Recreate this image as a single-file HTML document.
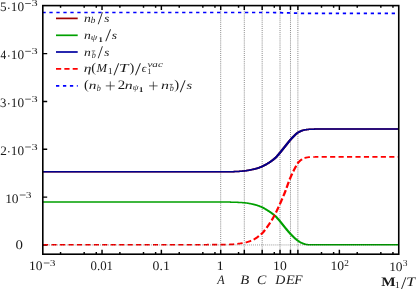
<!DOCTYPE html>
<html><head><meta charset="utf-8"><title>plot</title>
<style>
html,body{margin:0;padding:0;background:#fff;overflow:hidden}
svg{display:block}
text{font-family:"Liberation Serif",serif;fill:#1a1a1a;text-rendering:geometricPrecision}
</style></head><body>
<svg width="416" height="289" viewBox="0 0 416 289">
<rect width="416" height="289" fill="#fff"/>
<g fill="none">
<path d="M60.56,254.2v-2.2M60.56,5.6v2.2M84.17,254.2v-2.2M84.17,5.6v2.2M96.28,254.2v-2.2M96.28,5.6v2.2M102.03,254.2v-4.4M102.03,5.6v4.4M119.89,254.2v-2.2M119.89,5.6v2.2M143.51,254.2v-2.2M143.51,5.6v2.2M155.62,254.2v-2.2M155.62,5.6v2.2M161.37,254.2v-4.4M161.37,5.6v4.4M179.23,254.2v-2.2M179.23,5.6v2.2M202.84,254.2v-2.2M202.84,5.6v2.2M214.95,254.2v-2.2M214.95,5.6v2.2M220.70,254.2v-4.4M220.70,5.6v4.4M238.56,254.2v-2.2M238.56,5.6v2.2M262.17,254.2v-2.2M262.17,5.6v2.2M274.28,254.2v-2.2M274.28,5.6v2.2M280.03,254.2v-4.4M280.03,5.6v4.4M297.89,254.2v-2.2M297.89,5.6v2.2M321.51,254.2v-2.2M321.51,5.6v2.2M333.62,254.2v-2.2M333.62,5.6v2.2M339.37,254.2v-4.4M339.37,5.6v4.4M357.23,254.2v-2.2M357.23,5.6v2.2M380.84,254.2v-2.2M380.84,5.6v2.2M392.95,254.2v-2.2M392.95,5.6v2.2M244.31,254.2v-4.4M244.31,5.6v4.4M262.17,254.2v-4.4M262.17,5.6v4.4M290.48,254.2v-4.4M290.48,5.6v4.4M297.89,254.2v-4.4M297.89,5.6v4.4M42.8,244.95h4.4M42.8,197.12h4.4M42.8,149.29h4.4M42.8,101.46h4.4M42.8,53.63h4.4" stroke="#000" stroke-width="1.45"/>
<line x1="220.70" y1="5.1" x2="220.70" y2="254.2" stroke="#000" stroke-opacity="0.6" stroke-width="0.8" stroke-dasharray="1 1.08"/>
<line x1="244.31" y1="5.1" x2="244.31" y2="254.2" stroke="#000" stroke-opacity="0.6" stroke-width="0.8" stroke-dasharray="1 1.08"/>
<line x1="262.17" y1="5.1" x2="262.17" y2="254.2" stroke="#000" stroke-opacity="0.6" stroke-width="0.8" stroke-dasharray="1 1.08"/>
<line x1="280.03" y1="5.1" x2="280.03" y2="254.2" stroke="#000" stroke-opacity="0.6" stroke-width="0.8" stroke-dasharray="1 1.08"/>
<line x1="290.48" y1="5.1" x2="290.48" y2="254.2" stroke="#000" stroke-opacity="0.6" stroke-width="0.8" stroke-dasharray="1 1.08"/>
<line x1="297.89" y1="5.1" x2="297.89" y2="254.2" stroke="#000" stroke-opacity="0.6" stroke-width="0.8" stroke-dasharray="1 1.08"/>
<path d="M42.80,172.60 L43.30,172.60 L43.80,172.60 L44.30,172.60 L44.80,172.60 L45.30,172.60 L45.80,172.60 L46.30,172.60 L46.80,172.60 L47.30,172.60 L47.80,172.60 L48.30,172.60 L48.80,172.60 L49.30,172.60 L49.80,172.60 L50.30,172.60 L50.80,172.60 L51.30,172.60 L51.80,172.60 L52.30,172.60 L52.80,172.60 L53.30,172.60 L53.80,172.60 L54.30,172.60 L54.80,172.60 L55.30,172.60 L55.80,172.60 L56.30,172.60 L56.80,172.60 L57.30,172.60 L57.80,172.60 L58.30,172.60 L58.80,172.60 L59.30,172.60 L59.80,172.60 L60.30,172.60 L60.80,172.60 L61.30,172.60 L61.80,172.60 L62.30,172.60 L62.80,172.60 L63.30,172.60 L63.80,172.60 L64.30,172.60 L64.80,172.60 L65.30,172.60 L65.80,172.60 L66.30,172.60 L66.80,172.60 L67.30,172.60 L67.80,172.60 L68.30,172.60 L68.80,172.60 L69.30,172.60 L69.80,172.60 L70.30,172.60 L70.80,172.60 L71.30,172.60 L71.80,172.60 L72.30,172.60 L72.80,172.60 L73.30,172.60 L73.80,172.60 L74.30,172.60 L74.80,172.60 L75.30,172.60 L75.80,172.60 L76.30,172.60 L76.80,172.60 L77.30,172.60 L77.80,172.60 L78.30,172.60 L78.80,172.60 L79.30,172.60 L79.80,172.60 L80.30,172.60 L80.80,172.60 L81.30,172.60 L81.80,172.60 L82.30,172.60 L82.80,172.60 L83.30,172.60 L83.80,172.60 L84.30,172.60 L84.80,172.60 L85.30,172.60 L85.80,172.60 L86.30,172.60 L86.80,172.60 L87.30,172.60 L87.80,172.60 L88.30,172.60 L88.80,172.60 L89.30,172.60 L89.80,172.60 L90.30,172.60 L90.80,172.60 L91.30,172.60 L91.80,172.60 L92.30,172.60 L92.80,172.60 L93.30,172.60 L93.80,172.60 L94.30,172.60 L94.80,172.60 L95.30,172.60 L95.80,172.60 L96.30,172.60 L96.80,172.60 L97.30,172.60 L97.80,172.60 L98.30,172.60 L98.80,172.60 L99.30,172.60 L99.80,172.60 L100.30,172.60 L100.80,172.60 L101.30,172.60 L101.80,172.60 L102.30,172.60 L102.80,172.60 L103.30,172.60 L103.80,172.60 L104.30,172.60 L104.80,172.60 L105.30,172.60 L105.80,172.60 L106.30,172.60 L106.80,172.60 L107.30,172.60 L107.80,172.60 L108.30,172.60 L108.80,172.60 L109.30,172.60 L109.80,172.60 L110.30,172.60 L110.80,172.60 L111.30,172.60 L111.80,172.60 L112.30,172.60 L112.80,172.60 L113.30,172.60 L113.80,172.60 L114.30,172.60 L114.80,172.60 L115.30,172.60 L115.80,172.60 L116.30,172.60 L116.80,172.60 L117.30,172.60 L117.80,172.60 L118.30,172.60 L118.80,172.60 L119.30,172.60 L119.80,172.60 L120.30,172.60 L120.80,172.60 L121.30,172.60 L121.80,172.60 L122.30,172.60 L122.80,172.60 L123.30,172.60 L123.80,172.60 L124.30,172.60 L124.80,172.60 L125.30,172.60 L125.80,172.60 L126.30,172.60 L126.80,172.60 L127.30,172.60 L127.80,172.60 L128.30,172.60 L128.80,172.60 L129.30,172.60 L129.80,172.60 L130.30,172.60 L130.80,172.60 L131.30,172.60 L131.80,172.60 L132.30,172.60 L132.80,172.60 L133.30,172.60 L133.80,172.60 L134.30,172.60 L134.80,172.60 L135.30,172.60 L135.80,172.60 L136.30,172.60 L136.80,172.60 L137.30,172.60 L137.80,172.60 L138.30,172.60 L138.80,172.60 L139.30,172.60 L139.80,172.60 L140.30,172.60 L140.80,172.60 L141.30,172.60 L141.80,172.60 L142.30,172.60 L142.80,172.60 L143.30,172.60 L143.80,172.60 L144.30,172.60 L144.80,172.60 L145.30,172.60 L145.80,172.60 L146.30,172.60 L146.80,172.60 L147.30,172.60 L147.80,172.60 L148.30,172.60 L148.80,172.60 L149.30,172.60 L149.80,172.60 L150.30,172.60 L150.80,172.60 L151.30,172.60 L151.80,172.60 L152.30,172.60 L152.80,172.60 L153.30,172.60 L153.80,172.60 L154.30,172.60 L154.80,172.60 L155.30,172.60 L155.80,172.60 L156.30,172.60 L156.80,172.60 L157.30,172.60 L157.80,172.60 L158.30,172.60 L158.80,172.60 L159.30,172.60 L159.80,172.60 L160.30,172.60 L160.80,172.60 L161.30,172.60 L161.80,172.60 L162.30,172.60 L162.80,172.60 L163.30,172.60 L163.80,172.60 L164.30,172.60 L164.80,172.60 L165.30,172.60 L165.80,172.60 L166.30,172.60 L166.80,172.60 L167.30,172.60 L167.80,172.60 L168.30,172.60 L168.80,172.60 L169.30,172.60 L169.80,172.60 L170.30,172.60 L170.80,172.60 L171.30,172.60 L171.80,172.60 L172.30,172.60 L172.80,172.60 L173.30,172.60 L173.80,172.60 L174.30,172.60 L174.80,172.60 L175.30,172.60 L175.80,172.60 L176.30,172.60 L176.80,172.60 L177.30,172.60 L177.80,172.60 L178.30,172.60 L178.80,172.60 L179.30,172.60 L179.80,172.60 L180.30,172.60 L180.80,172.60 L181.30,172.60 L181.80,172.60 L182.30,172.60 L182.80,172.60 L183.30,172.60 L183.80,172.60 L184.30,172.60 L184.80,172.60 L185.30,172.60 L185.80,172.60 L186.30,172.60 L186.80,172.60 L187.30,172.60 L187.80,172.60 L188.30,172.60 L188.80,172.60 L189.30,172.60 L189.80,172.60 L190.30,172.60 L190.80,172.60 L191.30,172.60 L191.80,172.60 L192.30,172.60 L192.80,172.60 L193.30,172.60 L193.80,172.60 L194.30,172.60 L194.80,172.60 L195.30,172.60 L195.80,172.60 L196.30,172.60 L196.80,172.60 L197.30,172.60 L197.80,172.60 L198.30,172.60 L198.80,172.60 L199.30,172.60 L199.80,172.60 L200.30,172.60 L200.80,172.60 L201.30,172.60 L201.80,172.60 L202.30,172.60 L202.80,172.60 L203.30,172.60 L203.80,172.60 L204.30,172.60 L204.80,172.60 L205.30,172.60 L205.80,172.60 L206.30,172.60 L206.80,172.60 L207.30,172.60 L207.80,172.60 L208.30,172.60 L208.80,172.60 L209.30,172.59 L209.80,172.59 L210.30,172.59 L210.80,172.59 L211.30,172.59 L211.80,172.59 L212.30,172.59 L212.80,172.59 L213.30,172.59 L213.80,172.59 L214.30,172.59 L214.80,172.59 L215.30,172.58 L215.80,172.58 L216.30,172.58 L216.80,172.58 L217.30,172.58 L217.80,172.58 L218.30,172.58 L218.80,172.58 L219.30,172.57 L219.80,172.57 L220.30,172.57 L220.80,172.57 L221.30,172.57 L221.80,172.57 L222.30,172.57 L222.80,172.56 L223.30,172.56 L223.80,172.56 L224.30,172.56 L224.80,172.56 L225.30,172.55 L225.80,172.55 L226.30,172.55 L226.81,172.55 L227.31,172.54 L227.81,172.54 L228.31,172.53 L228.81,172.53 L229.32,172.52 L229.82,172.51 L230.32,172.50 L230.82,172.48 L231.32,172.47 L231.82,172.46 L232.32,172.44 L232.82,172.43 L233.33,172.41 L233.83,172.40 L234.33,172.38 L234.83,172.36 L235.33,172.34 L235.83,172.32 L236.33,172.31 L236.84,172.29 L237.34,172.26 L237.84,172.24 L238.35,172.21 L238.85,172.18 L239.35,172.15 L239.86,172.11 L240.36,172.08 L240.86,172.04 L241.37,172.00 L241.87,171.95 L242.37,171.91 L242.88,171.86 L243.38,171.82 L243.88,171.77 L244.38,171.71 L244.89,171.66 L245.40,171.61 L245.91,171.54 L246.42,171.47 L246.93,171.40 L247.44,171.32 L247.95,171.23 L248.45,171.14 L248.96,171.05 L249.46,170.96 L249.96,170.86 L250.46,170.76 L250.96,170.66 L251.47,170.56 L251.97,170.46 L252.47,170.36 L252.98,170.25 L253.49,170.14 L253.99,170.03 L254.50,169.92 L255.01,169.80 L255.51,169.67 L256.02,169.54 L256.53,169.41 L257.04,169.27 L257.55,169.13 L258.07,168.98 L258.59,168.81 L259.10,168.64 L259.62,168.46 L260.13,168.27 L260.64,168.08 L261.15,167.88 L261.66,167.67 L262.17,167.45 L262.68,167.23 L263.20,167.00 L263.71,166.76 L264.23,166.52 L264.74,166.26 L265.25,165.99 L265.77,165.72 L266.28,165.44 L266.79,165.16 L267.29,164.87 L267.80,164.57 L268.31,164.27 L268.81,163.96 L269.32,163.65 L269.83,163.34 L270.34,163.01 L270.86,162.68 L271.37,162.34 L271.88,161.99 L272.40,161.62 L272.91,161.25 L273.43,160.87 L273.95,160.47 L274.47,160.05 L274.99,159.61 L275.51,159.15 L276.03,158.67 L276.55,158.18 L277.06,157.67 L277.58,157.15 L278.10,156.61 L278.62,156.03 L279.13,155.45 L279.64,154.85 L280.14,154.24 L280.64,153.64 L281.14,153.04 L281.65,152.43 L282.15,151.81 L282.66,151.19 L283.16,150.57 L283.66,149.94 L284.16,149.31 L284.66,148.68 L285.16,148.06 L285.66,147.44 L286.16,146.81 L286.66,146.18 L287.17,145.55 L287.67,144.92 L288.16,144.29 L288.66,143.66 L289.16,143.04 L289.65,142.43 L290.14,141.83 L290.63,141.24 L291.12,140.67 L291.62,140.09 L292.11,139.53 L292.61,138.97 L293.09,138.43 L293.58,137.91 L294.06,137.40 L294.55,136.91 L295.04,136.43 L295.53,135.94 L296.02,135.48 L296.50,135.03 L296.97,134.61 L297.43,134.22 L297.88,133.86 L298.34,133.54 L298.82,133.23 L299.29,132.93 L299.76,132.65 L300.23,132.39 L300.69,132.15 L301.15,131.93 L301.62,131.73 L302.10,131.55 L302.58,131.38 L303.06,131.22 L303.53,131.07 L304.01,130.93 L304.48,130.81 L304.95,130.70 L305.43,130.61 L305.92,130.53 L306.41,130.46 L306.90,130.39 L307.39,130.33 L307.88,130.27 L308.37,130.21 L308.86,130.16 L309.35,130.12 L309.84,130.09 L310.34,130.06 L310.84,130.03 L311.33,130.01 L311.83,129.98 L312.33,129.96 L312.83,129.94 L313.32,129.93 L313.82,129.91 L314.32,129.89 L314.82,129.88 L315.31,129.87 L315.81,129.86 L316.31,129.85 L316.81,129.85 L317.31,129.84 L317.81,129.83 L318.31,129.83 L318.81,129.82 L319.31,129.82 L319.81,129.81 L320.30,129.81 L320.80,129.80 L321.30,129.80 L321.80,129.80 L322.30,129.80 L322.80,129.80 L323.30,129.80 L323.80,129.80 L324.30,129.80 L324.80,129.80 L325.30,129.80 L325.80,129.80 L326.30,129.80 L326.80,129.80 L327.30,129.80 L327.80,129.80 L328.30,129.80 L328.80,129.80 L329.30,129.80 L329.80,129.80 L330.30,129.80 L330.80,129.80 L331.30,129.80 L331.80,129.80 L332.30,129.80 L332.80,129.80 L333.30,129.80 L333.80,129.80 L334.30,129.80 L334.80,129.80 L335.30,129.80 L335.80,129.80 L336.30,129.80 L336.80,129.80 L337.30,129.80 L337.80,129.80 L338.30,129.80 L338.80,129.80 L339.30,129.80 L339.80,129.80 L340.30,129.80 L340.80,129.80 L341.30,129.80 L341.80,129.80 L342.30,129.80 L342.80,129.80 L343.30,129.80 L343.80,129.80 L344.30,129.80 L344.80,129.80 L345.30,129.80 L345.80,129.80 L346.30,129.80 L346.80,129.80 L347.30,129.80 L347.80,129.80 L348.30,129.80 L348.80,129.80 L349.30,129.80 L349.80,129.80 L350.30,129.80 L350.80,129.80 L351.30,129.80 L351.80,129.80 L352.30,129.80 L352.80,129.80 L353.30,129.80 L353.80,129.80 L354.30,129.80 L354.80,129.80 L355.30,129.80 L355.80,129.80 L356.30,129.80 L356.80,129.80 L357.30,129.80 L357.80,129.80 L358.30,129.80 L358.80,129.80 L359.30,129.80 L359.80,129.80 L360.30,129.80 L360.80,129.80 L361.30,129.80 L361.80,129.80 L362.30,129.80 L362.80,129.80 L363.30,129.80 L363.80,129.80 L364.30,129.80 L364.80,129.80 L365.30,129.80 L365.80,129.80 L366.30,129.80 L366.80,129.80 L367.30,129.80 L367.80,129.80 L368.30,129.80 L368.80,129.80 L369.30,129.80 L369.80,129.80 L370.30,129.80 L370.80,129.80 L371.30,129.80 L371.80,129.80 L372.30,129.80 L372.80,129.80 L373.30,129.80 L373.80,129.80 L374.30,129.80 L374.80,129.80 L375.30,129.80 L375.80,129.80 L376.30,129.80 L376.80,129.80 L377.30,129.80 L377.80,129.80 L378.30,129.80 L378.80,129.80 L379.30,129.80 L379.80,129.80 L380.30,129.80 L380.80,129.80 L381.30,129.80 L381.80,129.80 L382.30,129.80 L382.80,129.80 L383.30,129.80 L383.80,129.80 L384.30,129.80 L384.80,129.80 L385.30,129.80 L385.80,129.80 L386.30,129.80 L386.80,129.80 L387.30,129.80 L387.80,129.80 L388.30,129.80 L388.80,129.80 L389.30,129.80 L389.80,129.80 L390.30,129.80 L390.80,129.80 L391.30,129.80 L391.80,129.80 L392.30,129.80 L392.80,129.80 L393.30,129.80 L393.80,129.80 L394.30,129.80 L394.80,129.80 L395.30,129.80 L395.80,129.80 L396.30,129.80 L396.80,129.80 L397.30,129.80 L397.80,129.80 L398.30,129.80 L398.75,129.80 L398.75,128.30 L398.30,128.30 L397.80,128.30 L397.30,128.30 L396.80,128.30 L396.30,128.30 L395.80,128.30 L395.30,128.30 L394.80,128.30 L394.30,128.30 L393.80,128.30 L393.30,128.30 L392.80,128.30 L392.30,128.30 L391.80,128.30 L391.30,128.30 L390.80,128.30 L390.30,128.30 L389.80,128.30 L389.30,128.30 L388.80,128.30 L388.30,128.30 L387.80,128.30 L387.30,128.30 L386.80,128.30 L386.30,128.30 L385.80,128.30 L385.30,128.30 L384.80,128.30 L384.30,128.30 L383.80,128.30 L383.30,128.30 L382.80,128.30 L382.30,128.30 L381.80,128.30 L381.30,128.30 L380.80,128.30 L380.30,128.30 L379.80,128.30 L379.30,128.30 L378.80,128.30 L378.30,128.30 L377.80,128.30 L377.30,128.30 L376.80,128.30 L376.30,128.30 L375.80,128.30 L375.30,128.30 L374.80,128.30 L374.30,128.30 L373.80,128.30 L373.30,128.30 L372.80,128.30 L372.30,128.30 L371.80,128.30 L371.30,128.30 L370.80,128.30 L370.30,128.30 L369.80,128.30 L369.30,128.30 L368.80,128.30 L368.30,128.30 L367.80,128.30 L367.30,128.30 L366.80,128.30 L366.30,128.30 L365.80,128.30 L365.30,128.30 L364.80,128.30 L364.30,128.30 L363.80,128.30 L363.30,128.30 L362.80,128.30 L362.30,128.30 L361.80,128.30 L361.30,128.30 L360.80,128.30 L360.30,128.30 L359.80,128.30 L359.30,128.30 L358.80,128.30 L358.30,128.30 L357.80,128.30 L357.30,128.30 L356.80,128.30 L356.30,128.30 L355.80,128.30 L355.30,128.30 L354.80,128.30 L354.30,128.30 L353.80,128.30 L353.30,128.30 L352.80,128.30 L352.30,128.30 L351.80,128.30 L351.30,128.30 L350.80,128.30 L350.30,128.30 L349.80,128.30 L349.30,128.30 L348.80,128.30 L348.30,128.30 L347.80,128.30 L347.30,128.30 L346.80,128.30 L346.30,128.30 L345.80,128.30 L345.30,128.30 L344.80,128.30 L344.30,128.30 L343.80,128.30 L343.30,128.30 L342.80,128.30 L342.30,128.30 L341.80,128.30 L341.30,128.30 L340.80,128.30 L340.30,128.30 L339.80,128.30 L339.30,128.30 L338.80,128.30 L338.30,128.30 L337.80,128.30 L337.30,128.30 L336.80,128.30 L336.30,128.30 L335.80,128.30 L335.30,128.30 L334.80,128.30 L334.30,128.30 L333.80,128.30 L333.30,128.30 L332.80,128.30 L332.30,128.30 L331.80,128.30 L331.30,128.30 L330.80,128.30 L330.30,128.30 L329.80,128.30 L329.30,128.30 L328.80,128.30 L328.30,128.30 L327.80,128.30 L327.30,128.30 L326.80,128.30 L326.30,128.30 L325.80,128.30 L325.30,128.30 L324.80,128.30 L324.30,128.30 L323.80,128.30 L323.30,128.30 L322.80,128.30 L322.30,128.30 L321.80,128.30 L321.30,128.30 L320.80,128.30 L320.30,128.30 L319.79,128.31 L319.29,128.31 L318.79,128.31 L318.29,128.32 L317.79,128.32 L317.29,128.33 L316.79,128.33 L316.29,128.34 L315.79,128.35 L315.29,128.35 L314.78,128.36 L314.28,128.37 L313.78,128.38 L313.28,128.40 L312.77,128.41 L312.27,128.43 L311.77,128.45 L311.27,128.47 L310.76,128.49 L310.26,128.51 L309.76,128.54 L309.25,128.56 L308.74,128.60 L308.23,128.64 L307.72,128.68 L307.21,128.73 L306.70,128.79 L306.19,128.85 L305.68,128.92 L305.17,128.99 L304.65,129.07 L304.12,129.16 L303.59,129.26 L303.07,129.39 L302.54,129.53 L302.02,129.69 L301.50,129.85 L300.98,130.03 L300.45,130.22 L299.91,130.44 L299.37,130.69 L298.84,130.95 L298.31,131.24 L297.78,131.55 L297.26,131.87 L296.72,132.21 L296.17,132.60 L295.63,133.02 L295.10,133.46 L294.58,133.93 L294.07,134.41 L293.56,134.90 L293.05,135.39 L292.54,135.90 L292.02,136.42 L291.51,136.97 L290.99,137.52 L290.49,138.09 L289.98,138.66 L289.48,139.24 L288.97,139.82 L288.46,140.42 L287.95,141.04 L287.44,141.66 L286.94,142.28 L286.44,142.92 L285.93,143.55 L285.43,144.18 L284.94,144.81 L284.44,145.44 L283.94,146.06 L283.44,146.68 L282.94,147.31 L282.44,147.94 L281.94,148.56 L281.44,149.19 L280.94,149.81 L280.45,150.43 L279.95,151.04 L279.46,151.64 L278.96,152.24 L278.46,152.84 L277.96,153.44 L277.47,154.03 L276.98,154.60 L276.50,155.14 L276.02,155.66 L275.54,156.17 L275.05,156.66 L274.57,157.14 L274.09,157.60 L273.61,158.04 L273.13,158.46 L272.65,158.86 L272.17,159.24 L271.69,159.62 L271.20,159.98 L270.72,160.34 L270.23,160.68 L269.74,161.02 L269.26,161.34 L268.77,161.66 L268.28,161.98 L267.79,162.28 L267.29,162.59 L266.80,162.88 L266.31,163.18 L265.81,163.47 L265.32,163.75 L264.83,164.03 L264.35,164.30 L263.86,164.56 L263.37,164.81 L262.89,165.06 L262.40,165.30 L261.92,165.53 L261.43,165.75 L260.94,165.96 L260.45,166.17 L259.96,166.37 L259.47,166.57 L258.98,166.76 L258.50,166.95 L258.01,167.12 L257.53,167.29 L257.05,167.44 L256.56,167.59 L256.07,167.73 L255.58,167.87 L255.09,168.00 L254.59,168.13 L254.10,168.25 L253.61,168.37 L253.11,168.49 L252.62,168.60 L252.13,168.71 L251.63,168.81 L251.13,168.92 L250.64,169.02 L250.14,169.12 L249.64,169.22 L249.14,169.32 L248.64,169.41 L248.15,169.51 L247.65,169.60 L247.16,169.69 L246.67,169.77 L246.18,169.86 L245.69,169.93 L245.20,170.00 L244.71,170.07 L244.22,170.13 L243.72,170.18 L243.22,170.23 L242.72,170.28 L242.23,170.33 L241.73,170.38 L241.23,170.43 L240.74,170.47 L240.24,170.51 L239.74,170.55 L239.25,170.59 L238.75,170.63 L238.25,170.66 L237.76,170.69 L237.26,170.72 L236.76,170.75 L236.27,170.77 L235.77,170.79 L235.27,170.81 L234.77,170.83 L234.27,170.85 L233.77,170.87 L233.27,170.88 L232.78,170.90 L232.28,170.92 L231.78,170.93 L231.28,170.95 L230.78,170.96 L230.28,170.97 L229.78,170.99 L229.28,171.00 L228.79,171.01 L228.29,171.02 L227.79,171.03 L227.29,171.04 L226.79,171.04 L226.30,171.05 L225.80,171.05 L225.30,171.05 L224.80,171.05 L224.30,171.05 L223.80,171.06 L223.30,171.06 L222.80,171.06 L222.30,171.06 L221.80,171.06 L221.30,171.07 L220.80,171.07 L220.30,171.07 L219.80,171.07 L219.30,171.07 L218.80,171.07 L218.30,171.07 L217.80,171.08 L217.30,171.08 L216.80,171.08 L216.30,171.08 L215.80,171.08 L215.30,171.08 L214.80,171.08 L214.30,171.08 L213.80,171.09 L213.30,171.09 L212.80,171.09 L212.30,171.09 L211.80,171.09 L211.30,171.09 L210.80,171.09 L210.30,171.09 L209.80,171.09 L209.30,171.09 L208.80,171.09 L208.30,171.09 L207.80,171.10 L207.30,171.10 L206.80,171.10 L206.30,171.10 L205.80,171.10 L205.30,171.10 L204.80,171.10 L204.30,171.10 L203.80,171.10 L203.30,171.10 L202.80,171.10 L202.30,171.10 L201.80,171.10 L201.30,171.10 L200.80,171.10 L200.30,171.10 L199.80,171.10 L199.30,171.10 L198.80,171.10 L198.30,171.10 L197.80,171.10 L197.30,171.10 L196.80,171.10 L196.30,171.10 L195.80,171.10 L195.30,171.10 L194.80,171.10 L194.30,171.10 L193.80,171.10 L193.30,171.10 L192.80,171.10 L192.30,171.10 L191.80,171.10 L191.30,171.10 L190.80,171.10 L190.30,171.10 L189.80,171.10 L189.30,171.10 L188.80,171.10 L188.30,171.10 L187.80,171.10 L187.30,171.10 L186.80,171.10 L186.30,171.10 L185.80,171.10 L185.30,171.10 L184.80,171.10 L184.30,171.10 L183.80,171.10 L183.30,171.10 L182.80,171.10 L182.30,171.10 L181.80,171.10 L181.30,171.10 L180.80,171.10 L180.30,171.10 L179.80,171.10 L179.30,171.10 L178.80,171.10 L178.30,171.10 L177.80,171.10 L177.30,171.10 L176.80,171.10 L176.30,171.10 L175.80,171.10 L175.30,171.10 L174.80,171.10 L174.30,171.10 L173.80,171.10 L173.30,171.10 L172.80,171.10 L172.30,171.10 L171.80,171.10 L171.30,171.10 L170.80,171.10 L170.30,171.10 L169.80,171.10 L169.30,171.10 L168.80,171.10 L168.30,171.10 L167.80,171.10 L167.30,171.10 L166.80,171.10 L166.30,171.10 L165.80,171.10 L165.30,171.10 L164.80,171.10 L164.30,171.10 L163.80,171.10 L163.30,171.10 L162.80,171.10 L162.30,171.10 L161.80,171.10 L161.30,171.10 L160.80,171.10 L160.30,171.10 L159.80,171.10 L159.30,171.10 L158.80,171.10 L158.30,171.10 L157.80,171.10 L157.30,171.10 L156.80,171.10 L156.30,171.10 L155.80,171.10 L155.30,171.10 L154.80,171.10 L154.30,171.10 L153.80,171.10 L153.30,171.10 L152.80,171.10 L152.30,171.10 L151.80,171.10 L151.30,171.10 L150.80,171.10 L150.30,171.10 L149.80,171.10 L149.30,171.10 L148.80,171.10 L148.30,171.10 L147.80,171.10 L147.30,171.10 L146.80,171.10 L146.30,171.10 L145.80,171.10 L145.30,171.10 L144.80,171.10 L144.30,171.10 L143.80,171.10 L143.30,171.10 L142.80,171.10 L142.30,171.10 L141.80,171.10 L141.30,171.10 L140.80,171.10 L140.30,171.10 L139.80,171.10 L139.30,171.10 L138.80,171.10 L138.30,171.10 L137.80,171.10 L137.30,171.10 L136.80,171.10 L136.30,171.10 L135.80,171.10 L135.30,171.10 L134.80,171.10 L134.30,171.10 L133.80,171.10 L133.30,171.10 L132.80,171.10 L132.30,171.10 L131.80,171.10 L131.30,171.10 L130.80,171.10 L130.30,171.10 L129.80,171.10 L129.30,171.10 L128.80,171.10 L128.30,171.10 L127.80,171.10 L127.30,171.10 L126.80,171.10 L126.30,171.10 L125.80,171.10 L125.30,171.10 L124.80,171.10 L124.30,171.10 L123.80,171.10 L123.30,171.10 L122.80,171.10 L122.30,171.10 L121.80,171.10 L121.30,171.10 L120.80,171.10 L120.30,171.10 L119.80,171.10 L119.30,171.10 L118.80,171.10 L118.30,171.10 L117.80,171.10 L117.30,171.10 L116.80,171.10 L116.30,171.10 L115.80,171.10 L115.30,171.10 L114.80,171.10 L114.30,171.10 L113.80,171.10 L113.30,171.10 L112.80,171.10 L112.30,171.10 L111.80,171.10 L111.30,171.10 L110.80,171.10 L110.30,171.10 L109.80,171.10 L109.30,171.10 L108.80,171.10 L108.30,171.10 L107.80,171.10 L107.30,171.10 L106.80,171.10 L106.30,171.10 L105.80,171.10 L105.30,171.10 L104.80,171.10 L104.30,171.10 L103.80,171.10 L103.30,171.10 L102.80,171.10 L102.30,171.10 L101.80,171.10 L101.30,171.10 L100.80,171.10 L100.30,171.10 L99.80,171.10 L99.30,171.10 L98.80,171.10 L98.30,171.10 L97.80,171.10 L97.30,171.10 L96.80,171.10 L96.30,171.10 L95.80,171.10 L95.30,171.10 L94.80,171.10 L94.30,171.10 L93.80,171.10 L93.30,171.10 L92.80,171.10 L92.30,171.10 L91.80,171.10 L91.30,171.10 L90.80,171.10 L90.30,171.10 L89.80,171.10 L89.30,171.10 L88.80,171.10 L88.30,171.10 L87.80,171.10 L87.30,171.10 L86.80,171.10 L86.30,171.10 L85.80,171.10 L85.30,171.10 L84.80,171.10 L84.30,171.10 L83.80,171.10 L83.30,171.10 L82.80,171.10 L82.30,171.10 L81.80,171.10 L81.30,171.10 L80.80,171.10 L80.30,171.10 L79.80,171.10 L79.30,171.10 L78.80,171.10 L78.30,171.10 L77.80,171.10 L77.30,171.10 L76.80,171.10 L76.30,171.10 L75.80,171.10 L75.30,171.10 L74.80,171.10 L74.30,171.10 L73.80,171.10 L73.30,171.10 L72.80,171.10 L72.30,171.10 L71.80,171.10 L71.30,171.10 L70.80,171.10 L70.30,171.10 L69.80,171.10 L69.30,171.10 L68.80,171.10 L68.30,171.10 L67.80,171.10 L67.30,171.10 L66.80,171.10 L66.30,171.10 L65.80,171.10 L65.30,171.10 L64.80,171.10 L64.30,171.10 L63.80,171.10 L63.30,171.10 L62.80,171.10 L62.30,171.10 L61.80,171.10 L61.30,171.10 L60.80,171.10 L60.30,171.10 L59.80,171.10 L59.30,171.10 L58.80,171.10 L58.30,171.10 L57.80,171.10 L57.30,171.10 L56.80,171.10 L56.30,171.10 L55.80,171.10 L55.30,171.10 L54.80,171.10 L54.30,171.10 L53.80,171.10 L53.30,171.10 L52.80,171.10 L52.30,171.10 L51.80,171.10 L51.30,171.10 L50.80,171.10 L50.30,171.10 L49.80,171.10 L49.30,171.10 L48.80,171.10 L48.30,171.10 L47.80,171.10 L47.30,171.10 L46.80,171.10 L46.30,171.10 L45.80,171.10 L45.30,171.10 L44.80,171.10 L44.30,171.10 L43.80,171.10 L43.30,171.10 L42.80,171.10Z" fill="#a00000"/>
<path d="M42.80,202.75 L43.30,202.75 L43.80,202.75 L44.30,202.75 L44.80,202.75 L45.30,202.75 L45.80,202.75 L46.30,202.75 L46.80,202.75 L47.30,202.75 L47.80,202.75 L48.30,202.75 L48.80,202.75 L49.30,202.75 L49.80,202.75 L50.30,202.75 L50.80,202.75 L51.30,202.75 L51.80,202.75 L52.30,202.75 L52.80,202.75 L53.30,202.75 L53.80,202.75 L54.30,202.75 L54.80,202.75 L55.30,202.75 L55.80,202.75 L56.30,202.75 L56.80,202.75 L57.30,202.75 L57.80,202.75 L58.30,202.75 L58.80,202.75 L59.30,202.75 L59.80,202.75 L60.30,202.75 L60.80,202.75 L61.30,202.75 L61.80,202.75 L62.30,202.75 L62.80,202.75 L63.30,202.75 L63.80,202.75 L64.30,202.75 L64.80,202.75 L65.30,202.75 L65.80,202.75 L66.30,202.75 L66.80,202.75 L67.30,202.75 L67.80,202.75 L68.30,202.75 L68.80,202.75 L69.30,202.75 L69.80,202.75 L70.30,202.75 L70.80,202.75 L71.30,202.75 L71.80,202.75 L72.30,202.75 L72.80,202.75 L73.30,202.75 L73.80,202.75 L74.30,202.75 L74.80,202.75 L75.30,202.75 L75.80,202.75 L76.30,202.75 L76.80,202.75 L77.30,202.75 L77.80,202.75 L78.30,202.75 L78.80,202.75 L79.30,202.75 L79.80,202.75 L80.30,202.75 L80.80,202.75 L81.30,202.75 L81.80,202.75 L82.30,202.75 L82.80,202.75 L83.30,202.75 L83.80,202.75 L84.30,202.75 L84.80,202.75 L85.30,202.75 L85.80,202.75 L86.30,202.75 L86.80,202.75 L87.30,202.75 L87.80,202.75 L88.30,202.75 L88.80,202.75 L89.30,202.75 L89.80,202.75 L90.30,202.75 L90.80,202.75 L91.30,202.75 L91.80,202.75 L92.30,202.75 L92.80,202.75 L93.30,202.75 L93.80,202.75 L94.30,202.75 L94.80,202.75 L95.30,202.75 L95.80,202.75 L96.30,202.75 L96.80,202.75 L97.30,202.75 L97.80,202.75 L98.30,202.75 L98.80,202.75 L99.30,202.75 L99.80,202.75 L100.30,202.75 L100.80,202.75 L101.30,202.75 L101.80,202.75 L102.30,202.75 L102.80,202.75 L103.30,202.75 L103.80,202.75 L104.30,202.75 L104.80,202.75 L105.30,202.75 L105.80,202.75 L106.30,202.75 L106.80,202.75 L107.30,202.75 L107.80,202.75 L108.30,202.75 L108.80,202.75 L109.30,202.75 L109.80,202.75 L110.30,202.75 L110.80,202.75 L111.30,202.75 L111.80,202.75 L112.30,202.75 L112.80,202.75 L113.30,202.75 L113.80,202.75 L114.30,202.75 L114.80,202.75 L115.30,202.75 L115.80,202.75 L116.30,202.75 L116.80,202.75 L117.30,202.75 L117.80,202.75 L118.30,202.75 L118.80,202.75 L119.30,202.75 L119.80,202.75 L120.30,202.75 L120.80,202.75 L121.30,202.75 L121.80,202.75 L122.30,202.75 L122.80,202.75 L123.30,202.75 L123.80,202.75 L124.30,202.75 L124.80,202.75 L125.30,202.75 L125.80,202.75 L126.30,202.75 L126.80,202.75 L127.30,202.75 L127.80,202.75 L128.30,202.75 L128.80,202.75 L129.30,202.75 L129.80,202.75 L130.30,202.75 L130.80,202.75 L131.30,202.75 L131.80,202.75 L132.30,202.75 L132.80,202.75 L133.30,202.75 L133.80,202.75 L134.30,202.75 L134.80,202.75 L135.30,202.75 L135.80,202.75 L136.30,202.75 L136.80,202.75 L137.30,202.75 L137.80,202.75 L138.30,202.75 L138.80,202.75 L139.30,202.75 L139.80,202.75 L140.30,202.75 L140.80,202.75 L141.30,202.75 L141.80,202.75 L142.30,202.75 L142.80,202.75 L143.30,202.75 L143.80,202.75 L144.30,202.75 L144.80,202.75 L145.30,202.75 L145.80,202.75 L146.30,202.75 L146.80,202.75 L147.30,202.75 L147.80,202.75 L148.30,202.75 L148.80,202.75 L149.30,202.75 L149.80,202.75 L150.30,202.75 L150.80,202.75 L151.30,202.75 L151.80,202.75 L152.30,202.75 L152.80,202.75 L153.30,202.75 L153.80,202.75 L154.30,202.75 L154.80,202.75 L155.30,202.75 L155.80,202.75 L156.30,202.75 L156.80,202.75 L157.30,202.75 L157.80,202.75 L158.30,202.75 L158.80,202.75 L159.30,202.75 L159.80,202.75 L160.30,202.75 L160.80,202.75 L161.30,202.75 L161.80,202.75 L162.30,202.75 L162.80,202.75 L163.30,202.75 L163.80,202.75 L164.30,202.75 L164.80,202.75 L165.30,202.75 L165.80,202.75 L166.30,202.75 L166.80,202.75 L167.30,202.75 L167.80,202.75 L168.30,202.75 L168.80,202.75 L169.30,202.75 L169.80,202.75 L170.30,202.75 L170.80,202.75 L171.30,202.75 L171.80,202.75 L172.30,202.75 L172.80,202.75 L173.30,202.75 L173.80,202.75 L174.30,202.75 L174.80,202.75 L175.30,202.75 L175.80,202.75 L176.30,202.75 L176.80,202.75 L177.30,202.75 L177.80,202.75 L178.30,202.75 L178.80,202.75 L179.30,202.75 L179.80,202.75 L180.30,202.75 L180.80,202.75 L181.30,202.75 L181.80,202.75 L182.30,202.75 L182.80,202.75 L183.30,202.75 L183.80,202.75 L184.30,202.75 L184.80,202.75 L185.30,202.75 L185.80,202.75 L186.30,202.75 L186.80,202.75 L187.30,202.75 L187.80,202.75 L188.30,202.75 L188.80,202.75 L189.30,202.75 L189.80,202.75 L190.30,202.75 L190.80,202.75 L191.30,202.75 L191.80,202.75 L192.30,202.75 L192.80,202.75 L193.30,202.75 L193.80,202.75 L194.30,202.75 L194.80,202.75 L195.30,202.75 L195.80,202.75 L196.30,202.75 L196.80,202.75 L197.30,202.75 L197.80,202.75 L198.30,202.75 L198.80,202.75 L199.30,202.75 L199.80,202.75 L200.30,202.75 L200.80,202.75 L201.30,202.75 L201.80,202.75 L202.30,202.75 L202.80,202.75 L203.30,202.75 L203.80,202.75 L204.30,202.75 L204.80,202.75 L205.30,202.75 L205.80,202.75 L206.30,202.75 L206.80,202.75 L207.30,202.75 L207.80,202.75 L208.30,202.76 L208.80,202.76 L209.30,202.76 L209.80,202.76 L210.30,202.76 L210.80,202.76 L211.30,202.76 L211.80,202.76 L212.30,202.76 L212.80,202.76 L213.30,202.76 L213.80,202.76 L214.30,202.77 L214.80,202.77 L215.30,202.77 L215.80,202.77 L216.30,202.77 L216.80,202.77 L217.30,202.77 L217.80,202.77 L218.30,202.78 L218.80,202.78 L219.30,202.78 L219.80,202.78 L220.30,202.78 L220.80,202.78 L221.30,202.78 L221.80,202.79 L222.30,202.79 L222.80,202.79 L223.30,202.79 L223.80,202.79 L224.30,202.80 L224.80,202.80 L225.30,202.80 L225.80,202.80 L226.30,202.80 L226.79,202.81 L227.29,202.82 L227.79,202.82 L228.29,202.83 L228.79,202.84 L229.28,202.85 L229.78,202.87 L230.28,202.88 L230.78,202.89 L231.28,202.91 L231.78,202.92 L232.28,202.94 L232.78,202.95 L233.27,202.97 L233.77,202.99 L234.27,203.01 L234.77,203.02 L235.27,203.04 L235.77,203.06 L236.27,203.08 L236.77,203.10 L237.27,203.12 L237.77,203.14 L238.26,203.16 L238.76,203.19 L239.26,203.22 L239.76,203.24 L240.26,203.27 L240.75,203.30 L241.25,203.34 L241.75,203.37 L242.24,203.41 L242.74,203.44 L243.24,203.48 L243.74,203.53 L244.23,203.57 L244.72,203.62 L245.21,203.67 L245.70,203.73 L246.19,203.80 L246.68,203.87 L247.18,203.95 L247.67,204.03 L248.16,204.12 L248.66,204.21 L249.15,204.30 L249.65,204.39 L250.15,204.49 L250.64,204.58 L251.14,204.68 L251.63,204.79 L252.12,204.90 L252.61,205.01 L253.10,205.13 L253.59,205.26 L254.08,205.39 L254.57,205.52 L255.07,205.66 L255.56,205.80 L256.05,205.95 L256.54,206.10 L257.03,206.26 L257.52,206.43 L258.00,206.60 L258.49,206.78 L258.97,206.97 L259.46,207.17 L259.95,207.37 L260.43,207.59 L260.92,207.80 L261.41,208.03 L261.90,208.26 L262.38,208.50 L262.86,208.75 L263.34,209.01 L263.82,209.28 L264.31,209.57 L264.80,209.86 L265.29,210.16 L265.79,210.46 L266.29,210.77 L266.79,211.07 L267.28,211.38 L267.77,211.68 L268.26,212.00 L268.75,212.32 L269.24,212.65 L269.73,212.99 L270.22,213.34 L270.71,213.69 L271.19,214.05 L271.68,214.42 L272.17,214.80 L272.65,215.20 L273.14,215.60 L273.62,216.02 L274.10,216.45 L274.57,216.90 L275.06,217.37 L275.54,217.86 L276.03,218.36 L276.51,218.88 L277.00,219.41 L277.49,219.95 L277.97,220.52 L278.46,221.11 L278.95,221.71 L279.45,222.33 L279.94,222.94 L280.44,223.56 L280.93,224.18 L281.43,224.82 L281.93,225.46 L282.43,226.10 L282.94,226.73 L283.45,227.35 L283.95,227.97 L284.46,228.58 L284.96,229.18 L285.46,229.78 L285.96,230.38 L286.46,230.97 L286.96,231.56 L287.46,232.16 L287.96,232.76 L288.47,233.35 L288.98,233.94 L289.50,234.51 L290.02,235.06 L290.53,235.59 L291.04,236.11 L291.55,236.61 L292.06,237.11 L292.57,237.59 L293.09,238.07 L293.59,238.53 L294.10,238.98 L294.61,239.42 L295.12,239.87 L295.64,240.30 L296.16,240.71 L296.69,241.11 L297.22,241.49 L297.74,241.83 L298.25,242.17 L298.77,242.50 L299.29,242.81 L299.82,243.11 L300.35,243.39 L300.89,243.64 L301.44,243.87 L301.96,244.07 L302.47,244.27 L302.98,244.46 L303.50,244.64 L304.02,244.81 L304.55,244.96 L305.08,245.10 L305.62,245.21 L306.16,245.29 L306.70,245.35 L307.21,245.40 L307.72,245.45 L308.23,245.50 L308.74,245.54 L309.25,245.57 L309.76,245.59 L310.28,245.60 L310.79,245.60 L311.30,245.60 L311.80,245.60 L312.30,245.60 L312.80,245.60 L313.30,245.60 L313.80,245.60 L314.30,245.60 L314.80,245.60 L315.30,245.60 L315.80,245.60 L316.30,245.60 L316.80,245.60 L317.30,245.60 L317.80,245.60 L318.30,245.60 L318.80,245.60 L319.30,245.60 L319.80,245.60 L320.30,245.60 L320.80,245.60 L321.30,245.60 L321.80,245.60 L322.30,245.60 L322.80,245.60 L323.30,245.60 L323.80,245.60 L324.30,245.60 L324.80,245.60 L325.30,245.60 L325.80,245.60 L326.30,245.60 L326.80,245.60 L327.30,245.60 L327.80,245.60 L328.30,245.60 L328.80,245.60 L329.30,245.60 L329.80,245.60 L330.30,245.60 L330.80,245.60 L331.30,245.60 L331.80,245.60 L332.30,245.60 L332.80,245.60 L333.30,245.60 L333.80,245.60 L334.30,245.60 L334.80,245.60 L335.30,245.60 L335.80,245.60 L336.30,245.60 L336.80,245.60 L337.30,245.60 L337.80,245.60 L338.30,245.60 L338.80,245.60 L339.30,245.60 L339.80,245.60 L340.30,245.60 L340.80,245.60 L341.30,245.60 L341.80,245.60 L342.30,245.60 L342.80,245.60 L343.30,245.60 L343.80,245.60 L344.30,245.60 L344.80,245.60 L345.30,245.60 L345.80,245.60 L346.30,245.60 L346.80,245.60 L347.30,245.60 L347.80,245.60 L348.30,245.60 L348.80,245.60 L349.30,245.60 L349.80,245.60 L350.30,245.60 L350.80,245.60 L351.30,245.60 L351.80,245.60 L352.30,245.60 L352.80,245.60 L353.30,245.60 L353.80,245.60 L354.30,245.60 L354.80,245.60 L355.30,245.60 L355.80,245.60 L356.30,245.60 L356.80,245.60 L357.30,245.60 L357.80,245.60 L358.30,245.60 L358.80,245.60 L359.30,245.60 L359.80,245.60 L360.30,245.60 L360.80,245.60 L361.30,245.60 L361.80,245.60 L362.30,245.60 L362.80,245.60 L363.30,245.60 L363.80,245.60 L364.30,245.60 L364.80,245.60 L365.30,245.60 L365.80,245.60 L366.30,245.60 L366.80,245.60 L367.30,245.60 L367.80,245.60 L368.30,245.60 L368.80,245.60 L369.30,245.60 L369.80,245.60 L370.30,245.60 L370.80,245.60 L371.30,245.60 L371.80,245.60 L372.30,245.60 L372.80,245.60 L373.30,245.60 L373.80,245.60 L374.30,245.60 L374.80,245.60 L375.30,245.60 L375.80,245.60 L376.30,245.60 L376.80,245.60 L377.30,245.60 L377.80,245.60 L378.30,245.60 L378.80,245.60 L379.30,245.60 L379.80,245.60 L380.30,245.60 L380.80,245.60 L381.30,245.60 L381.80,245.60 L382.30,245.60 L382.80,245.60 L383.30,245.60 L383.80,245.60 L384.30,245.60 L384.80,245.60 L385.30,245.60 L385.80,245.60 L386.30,245.60 L386.80,245.60 L387.30,245.60 L387.80,245.60 L388.30,245.60 L388.80,245.60 L389.30,245.60 L389.80,245.60 L390.30,245.60 L390.80,245.60 L391.30,245.60 L391.80,245.60 L392.30,245.60 L392.80,245.60 L393.30,245.60 L393.80,245.60 L394.30,245.60 L394.80,245.60 L395.30,245.60 L395.80,245.60 L396.30,245.60 L396.80,245.60 L397.30,245.60 L397.80,245.60 L398.30,245.60 L398.75,245.60 L398.75,244.10 L398.30,244.10 L397.80,244.10 L397.30,244.10 L396.80,244.10 L396.30,244.10 L395.80,244.10 L395.30,244.10 L394.80,244.10 L394.30,244.10 L393.80,244.10 L393.30,244.10 L392.80,244.10 L392.30,244.10 L391.80,244.10 L391.30,244.10 L390.80,244.10 L390.30,244.10 L389.80,244.10 L389.30,244.10 L388.80,244.10 L388.30,244.10 L387.80,244.10 L387.30,244.10 L386.80,244.10 L386.30,244.10 L385.80,244.10 L385.30,244.10 L384.80,244.10 L384.30,244.10 L383.80,244.10 L383.30,244.10 L382.80,244.10 L382.30,244.10 L381.80,244.10 L381.30,244.10 L380.80,244.10 L380.30,244.10 L379.80,244.10 L379.30,244.10 L378.80,244.10 L378.30,244.10 L377.80,244.10 L377.30,244.10 L376.80,244.10 L376.30,244.10 L375.80,244.10 L375.30,244.10 L374.80,244.10 L374.30,244.10 L373.80,244.10 L373.30,244.10 L372.80,244.10 L372.30,244.10 L371.80,244.10 L371.30,244.10 L370.80,244.10 L370.30,244.10 L369.80,244.10 L369.30,244.10 L368.80,244.10 L368.30,244.10 L367.80,244.10 L367.30,244.10 L366.80,244.10 L366.30,244.10 L365.80,244.10 L365.30,244.10 L364.80,244.10 L364.30,244.10 L363.80,244.10 L363.30,244.10 L362.80,244.10 L362.30,244.10 L361.80,244.10 L361.30,244.10 L360.80,244.10 L360.30,244.10 L359.80,244.10 L359.30,244.10 L358.80,244.10 L358.30,244.10 L357.80,244.10 L357.30,244.10 L356.80,244.10 L356.30,244.10 L355.80,244.10 L355.30,244.10 L354.80,244.10 L354.30,244.10 L353.80,244.10 L353.30,244.10 L352.80,244.10 L352.30,244.10 L351.80,244.10 L351.30,244.10 L350.80,244.10 L350.30,244.10 L349.80,244.10 L349.30,244.10 L348.80,244.10 L348.30,244.10 L347.80,244.10 L347.30,244.10 L346.80,244.10 L346.30,244.10 L345.80,244.10 L345.30,244.10 L344.80,244.10 L344.30,244.10 L343.80,244.10 L343.30,244.10 L342.80,244.10 L342.30,244.10 L341.80,244.10 L341.30,244.10 L340.80,244.10 L340.30,244.10 L339.80,244.10 L339.30,244.10 L338.80,244.10 L338.30,244.10 L337.80,244.10 L337.30,244.10 L336.80,244.10 L336.30,244.10 L335.80,244.10 L335.30,244.10 L334.80,244.10 L334.30,244.10 L333.80,244.10 L333.30,244.10 L332.80,244.10 L332.30,244.10 L331.80,244.10 L331.30,244.10 L330.80,244.10 L330.30,244.10 L329.80,244.10 L329.30,244.10 L328.80,244.10 L328.30,244.10 L327.80,244.10 L327.30,244.10 L326.80,244.10 L326.30,244.10 L325.80,244.10 L325.30,244.10 L324.80,244.10 L324.30,244.10 L323.80,244.10 L323.30,244.10 L322.80,244.10 L322.30,244.10 L321.80,244.10 L321.30,244.10 L320.80,244.10 L320.30,244.10 L319.80,244.10 L319.30,244.10 L318.80,244.10 L318.30,244.10 L317.80,244.10 L317.30,244.10 L316.80,244.10 L316.30,244.10 L315.80,244.10 L315.30,244.10 L314.80,244.10 L314.30,244.10 L313.80,244.10 L313.30,244.10 L312.80,244.10 L312.30,244.10 L311.80,244.10 L311.30,244.10 L310.81,244.09 L310.32,244.08 L309.84,244.05 L309.35,244.01 L308.86,243.97 L308.37,243.92 L307.88,243.87 L307.39,243.81 L306.90,243.75 L306.44,243.67 L305.98,243.56 L305.52,243.43 L305.05,243.28 L304.58,243.12 L304.10,242.94 L303.62,242.76 L303.13,242.57 L302.64,242.37 L302.16,242.17 L301.71,241.94 L301.25,241.69 L300.78,241.42 L300.31,241.13 L299.83,240.82 L299.35,240.50 L298.86,240.17 L298.38,239.84 L297.91,239.48 L297.44,239.10 L296.96,238.70 L296.48,238.28 L295.99,237.85 L295.50,237.41 L295.01,236.96 L294.51,236.51 L294.03,236.05 L293.54,235.58 L293.05,235.10 L292.56,234.60 L292.07,234.10 L291.58,233.58 L291.10,233.05 L290.62,232.51 L290.13,231.94 L289.64,231.35 L289.14,230.75 L288.64,230.15 L288.14,229.56 L287.64,228.97 L287.14,228.37 L286.64,227.78 L286.14,227.18 L285.65,226.58 L285.15,225.97 L284.66,225.35 L284.17,224.73 L283.67,224.09 L283.17,223.46 L282.67,222.82 L282.16,222.18 L281.66,221.55 L281.15,220.94 L280.65,220.32 L280.14,219.71 L279.63,219.10 L279.11,218.51 L278.60,217.95 L278.09,217.41 L277.57,216.87 L277.06,216.35 L276.54,215.85 L276.03,215.36 L275.50,214.89 L274.98,214.44 L274.46,214.00 L273.95,213.59 L273.43,213.19 L272.92,212.80 L272.41,212.42 L271.89,212.05 L271.38,211.69 L270.87,211.33 L270.36,210.99 L269.85,210.65 L269.34,210.33 L268.83,210.01 L268.32,209.70 L267.81,209.39 L267.31,209.09 L266.81,208.78 L266.31,208.48 L265.80,208.18 L265.29,207.88 L264.78,207.59 L264.26,207.31 L263.74,207.05 L263.22,206.79 L262.70,206.55 L262.19,206.32 L261.68,206.10 L261.17,205.88 L260.65,205.67 L260.14,205.47 L259.63,205.27 L259.11,205.08 L258.60,204.90 L258.08,204.73 L257.57,204.57 L257.06,204.42 L256.55,204.27 L256.04,204.12 L255.53,203.98 L255.03,203.85 L254.52,203.71 L254.01,203.59 L253.50,203.47 L252.99,203.35 L252.48,203.24 L251.97,203.14 L251.46,203.04 L250.96,202.94 L250.45,202.85 L249.95,202.75 L249.45,202.66 L248.94,202.58 L248.44,202.49 L247.93,202.41 L247.42,202.33 L246.92,202.26 L246.41,202.20 L245.90,202.14 L245.39,202.08 L244.88,202.04 L244.37,202.00 L243.86,201.96 L243.36,201.92 L242.86,201.88 L242.36,201.85 L241.85,201.81 L241.35,201.78 L240.85,201.75 L240.34,201.72 L239.84,201.70 L239.34,201.67 L238.84,201.65 L238.34,201.62 L237.83,201.60 L237.33,201.58 L236.83,201.56 L236.33,201.54 L235.83,201.53 L235.33,201.51 L234.83,201.49 L234.33,201.48 L233.83,201.46 L233.33,201.44 L232.82,201.43 L232.32,201.41 L231.82,201.40 L231.32,201.38 L230.82,201.37 L230.32,201.36 L229.82,201.34 L229.32,201.33 L228.81,201.33 L228.31,201.32 L227.81,201.31 L227.31,201.31 L226.81,201.30 L226.30,201.30 L225.80,201.30 L225.30,201.30 L224.80,201.29 L224.30,201.29 L223.80,201.29 L223.30,201.29 L222.80,201.29 L222.30,201.28 L221.80,201.28 L221.30,201.28 L220.80,201.28 L220.30,201.28 L219.80,201.28 L219.30,201.28 L218.80,201.27 L218.30,201.27 L217.80,201.27 L217.30,201.27 L216.80,201.27 L216.30,201.27 L215.80,201.27 L215.30,201.27 L214.80,201.26 L214.30,201.26 L213.80,201.26 L213.30,201.26 L212.80,201.26 L212.30,201.26 L211.80,201.26 L211.30,201.26 L210.80,201.26 L210.30,201.26 L209.80,201.26 L209.30,201.26 L208.80,201.25 L208.30,201.25 L207.80,201.25 L207.30,201.25 L206.80,201.25 L206.30,201.25 L205.80,201.25 L205.30,201.25 L204.80,201.25 L204.30,201.25 L203.80,201.25 L203.30,201.25 L202.80,201.25 L202.30,201.25 L201.80,201.25 L201.30,201.25 L200.80,201.25 L200.30,201.25 L199.80,201.25 L199.30,201.25 L198.80,201.25 L198.30,201.25 L197.80,201.25 L197.30,201.25 L196.80,201.25 L196.30,201.25 L195.80,201.25 L195.30,201.25 L194.80,201.25 L194.30,201.25 L193.80,201.25 L193.30,201.25 L192.80,201.25 L192.30,201.25 L191.80,201.25 L191.30,201.25 L190.80,201.25 L190.30,201.25 L189.80,201.25 L189.30,201.25 L188.80,201.25 L188.30,201.25 L187.80,201.25 L187.30,201.25 L186.80,201.25 L186.30,201.25 L185.80,201.25 L185.30,201.25 L184.80,201.25 L184.30,201.25 L183.80,201.25 L183.30,201.25 L182.80,201.25 L182.30,201.25 L181.80,201.25 L181.30,201.25 L180.80,201.25 L180.30,201.25 L179.80,201.25 L179.30,201.25 L178.80,201.25 L178.30,201.25 L177.80,201.25 L177.30,201.25 L176.80,201.25 L176.30,201.25 L175.80,201.25 L175.30,201.25 L174.80,201.25 L174.30,201.25 L173.80,201.25 L173.30,201.25 L172.80,201.25 L172.30,201.25 L171.80,201.25 L171.30,201.25 L170.80,201.25 L170.30,201.25 L169.80,201.25 L169.30,201.25 L168.80,201.25 L168.30,201.25 L167.80,201.25 L167.30,201.25 L166.80,201.25 L166.30,201.25 L165.80,201.25 L165.30,201.25 L164.80,201.25 L164.30,201.25 L163.80,201.25 L163.30,201.25 L162.80,201.25 L162.30,201.25 L161.80,201.25 L161.30,201.25 L160.80,201.25 L160.30,201.25 L159.80,201.25 L159.30,201.25 L158.80,201.25 L158.30,201.25 L157.80,201.25 L157.30,201.25 L156.80,201.25 L156.30,201.25 L155.80,201.25 L155.30,201.25 L154.80,201.25 L154.30,201.25 L153.80,201.25 L153.30,201.25 L152.80,201.25 L152.30,201.25 L151.80,201.25 L151.30,201.25 L150.80,201.25 L150.30,201.25 L149.80,201.25 L149.30,201.25 L148.80,201.25 L148.30,201.25 L147.80,201.25 L147.30,201.25 L146.80,201.25 L146.30,201.25 L145.80,201.25 L145.30,201.25 L144.80,201.25 L144.30,201.25 L143.80,201.25 L143.30,201.25 L142.80,201.25 L142.30,201.25 L141.80,201.25 L141.30,201.25 L140.80,201.25 L140.30,201.25 L139.80,201.25 L139.30,201.25 L138.80,201.25 L138.30,201.25 L137.80,201.25 L137.30,201.25 L136.80,201.25 L136.30,201.25 L135.80,201.25 L135.30,201.25 L134.80,201.25 L134.30,201.25 L133.80,201.25 L133.30,201.25 L132.80,201.25 L132.30,201.25 L131.80,201.25 L131.30,201.25 L130.80,201.25 L130.30,201.25 L129.80,201.25 L129.30,201.25 L128.80,201.25 L128.30,201.25 L127.80,201.25 L127.30,201.25 L126.80,201.25 L126.30,201.25 L125.80,201.25 L125.30,201.25 L124.80,201.25 L124.30,201.25 L123.80,201.25 L123.30,201.25 L122.80,201.25 L122.30,201.25 L121.80,201.25 L121.30,201.25 L120.80,201.25 L120.30,201.25 L119.80,201.25 L119.30,201.25 L118.80,201.25 L118.30,201.25 L117.80,201.25 L117.30,201.25 L116.80,201.25 L116.30,201.25 L115.80,201.25 L115.30,201.25 L114.80,201.25 L114.30,201.25 L113.80,201.25 L113.30,201.25 L112.80,201.25 L112.30,201.25 L111.80,201.25 L111.30,201.25 L110.80,201.25 L110.30,201.25 L109.80,201.25 L109.30,201.25 L108.80,201.25 L108.30,201.25 L107.80,201.25 L107.30,201.25 L106.80,201.25 L106.30,201.25 L105.80,201.25 L105.30,201.25 L104.80,201.25 L104.30,201.25 L103.80,201.25 L103.30,201.25 L102.80,201.25 L102.30,201.25 L101.80,201.25 L101.30,201.25 L100.80,201.25 L100.30,201.25 L99.80,201.25 L99.30,201.25 L98.80,201.25 L98.30,201.25 L97.80,201.25 L97.30,201.25 L96.80,201.25 L96.30,201.25 L95.80,201.25 L95.30,201.25 L94.80,201.25 L94.30,201.25 L93.80,201.25 L93.30,201.25 L92.80,201.25 L92.30,201.25 L91.80,201.25 L91.30,201.25 L90.80,201.25 L90.30,201.25 L89.80,201.25 L89.30,201.25 L88.80,201.25 L88.30,201.25 L87.80,201.25 L87.30,201.25 L86.80,201.25 L86.30,201.25 L85.80,201.25 L85.30,201.25 L84.80,201.25 L84.30,201.25 L83.80,201.25 L83.30,201.25 L82.80,201.25 L82.30,201.25 L81.80,201.25 L81.30,201.25 L80.80,201.25 L80.30,201.25 L79.80,201.25 L79.30,201.25 L78.80,201.25 L78.30,201.25 L77.80,201.25 L77.30,201.25 L76.80,201.25 L76.30,201.25 L75.80,201.25 L75.30,201.25 L74.80,201.25 L74.30,201.25 L73.80,201.25 L73.30,201.25 L72.80,201.25 L72.30,201.25 L71.80,201.25 L71.30,201.25 L70.80,201.25 L70.30,201.25 L69.80,201.25 L69.30,201.25 L68.80,201.25 L68.30,201.25 L67.80,201.25 L67.30,201.25 L66.80,201.25 L66.30,201.25 L65.80,201.25 L65.30,201.25 L64.80,201.25 L64.30,201.25 L63.80,201.25 L63.30,201.25 L62.80,201.25 L62.30,201.25 L61.80,201.25 L61.30,201.25 L60.80,201.25 L60.30,201.25 L59.80,201.25 L59.30,201.25 L58.80,201.25 L58.30,201.25 L57.80,201.25 L57.30,201.25 L56.80,201.25 L56.30,201.25 L55.80,201.25 L55.30,201.25 L54.80,201.25 L54.30,201.25 L53.80,201.25 L53.30,201.25 L52.80,201.25 L52.30,201.25 L51.80,201.25 L51.30,201.25 L50.80,201.25 L50.30,201.25 L49.80,201.25 L49.30,201.25 L48.80,201.25 L48.30,201.25 L47.80,201.25 L47.30,201.25 L46.80,201.25 L46.30,201.25 L45.80,201.25 L45.30,201.25 L44.80,201.25 L44.30,201.25 L43.80,201.25 L43.30,201.25 L42.80,201.25Z" fill="#00a000"/>
<path d="M42.80,172.60 L43.30,172.60 L43.80,172.60 L44.30,172.60 L44.80,172.60 L45.30,172.60 L45.80,172.60 L46.30,172.60 L46.80,172.60 L47.30,172.60 L47.80,172.60 L48.30,172.60 L48.80,172.60 L49.30,172.60 L49.80,172.60 L50.30,172.60 L50.80,172.60 L51.30,172.60 L51.80,172.60 L52.30,172.60 L52.80,172.60 L53.30,172.60 L53.80,172.60 L54.30,172.60 L54.80,172.60 L55.30,172.60 L55.80,172.60 L56.30,172.60 L56.80,172.60 L57.30,172.60 L57.80,172.60 L58.30,172.60 L58.80,172.60 L59.30,172.60 L59.80,172.60 L60.30,172.60 L60.80,172.60 L61.30,172.60 L61.80,172.60 L62.30,172.60 L62.80,172.60 L63.30,172.60 L63.80,172.60 L64.30,172.60 L64.80,172.60 L65.30,172.60 L65.80,172.60 L66.30,172.60 L66.80,172.60 L67.30,172.60 L67.80,172.60 L68.30,172.60 L68.80,172.60 L69.30,172.60 L69.80,172.60 L70.30,172.60 L70.80,172.60 L71.30,172.60 L71.80,172.60 L72.30,172.60 L72.80,172.60 L73.30,172.60 L73.80,172.60 L74.30,172.60 L74.80,172.60 L75.30,172.60 L75.80,172.60 L76.30,172.60 L76.80,172.60 L77.30,172.60 L77.80,172.60 L78.30,172.60 L78.80,172.60 L79.30,172.60 L79.80,172.60 L80.30,172.60 L80.80,172.60 L81.30,172.60 L81.80,172.60 L82.30,172.60 L82.80,172.60 L83.30,172.60 L83.80,172.60 L84.30,172.60 L84.80,172.60 L85.30,172.60 L85.80,172.60 L86.30,172.60 L86.80,172.60 L87.30,172.60 L87.80,172.60 L88.30,172.60 L88.80,172.60 L89.30,172.60 L89.80,172.60 L90.30,172.60 L90.80,172.60 L91.30,172.60 L91.80,172.60 L92.30,172.60 L92.80,172.60 L93.30,172.60 L93.80,172.60 L94.30,172.60 L94.80,172.60 L95.30,172.60 L95.80,172.60 L96.30,172.60 L96.80,172.60 L97.30,172.60 L97.80,172.60 L98.30,172.60 L98.80,172.60 L99.30,172.60 L99.80,172.60 L100.30,172.60 L100.80,172.60 L101.30,172.60 L101.80,172.60 L102.30,172.60 L102.80,172.60 L103.30,172.60 L103.80,172.60 L104.30,172.60 L104.80,172.60 L105.30,172.60 L105.80,172.60 L106.30,172.60 L106.80,172.60 L107.30,172.60 L107.80,172.60 L108.30,172.60 L108.80,172.60 L109.30,172.60 L109.80,172.60 L110.30,172.60 L110.80,172.60 L111.30,172.60 L111.80,172.60 L112.30,172.60 L112.80,172.60 L113.30,172.60 L113.80,172.60 L114.30,172.60 L114.80,172.60 L115.30,172.60 L115.80,172.60 L116.30,172.60 L116.80,172.60 L117.30,172.60 L117.80,172.60 L118.30,172.60 L118.80,172.60 L119.30,172.60 L119.80,172.60 L120.30,172.60 L120.80,172.60 L121.30,172.60 L121.80,172.60 L122.30,172.60 L122.80,172.60 L123.30,172.60 L123.80,172.60 L124.30,172.60 L124.80,172.60 L125.30,172.60 L125.80,172.60 L126.30,172.60 L126.80,172.60 L127.30,172.60 L127.80,172.60 L128.30,172.60 L128.80,172.60 L129.30,172.60 L129.80,172.60 L130.30,172.60 L130.80,172.60 L131.30,172.60 L131.80,172.60 L132.30,172.60 L132.80,172.60 L133.30,172.60 L133.80,172.60 L134.30,172.60 L134.80,172.60 L135.30,172.60 L135.80,172.60 L136.30,172.60 L136.80,172.60 L137.30,172.60 L137.80,172.60 L138.30,172.60 L138.80,172.60 L139.30,172.60 L139.80,172.60 L140.30,172.60 L140.80,172.60 L141.30,172.60 L141.80,172.60 L142.30,172.60 L142.80,172.60 L143.30,172.60 L143.80,172.60 L144.30,172.60 L144.80,172.60 L145.30,172.60 L145.80,172.60 L146.30,172.60 L146.80,172.60 L147.30,172.60 L147.80,172.60 L148.30,172.60 L148.80,172.60 L149.30,172.60 L149.80,172.60 L150.30,172.60 L150.80,172.60 L151.30,172.60 L151.80,172.60 L152.30,172.60 L152.80,172.60 L153.30,172.60 L153.80,172.60 L154.30,172.60 L154.80,172.60 L155.30,172.60 L155.80,172.60 L156.30,172.60 L156.80,172.60 L157.30,172.60 L157.80,172.60 L158.30,172.60 L158.80,172.60 L159.30,172.60 L159.80,172.60 L160.30,172.60 L160.80,172.60 L161.30,172.60 L161.80,172.60 L162.30,172.60 L162.80,172.60 L163.30,172.60 L163.80,172.60 L164.30,172.60 L164.80,172.60 L165.30,172.60 L165.80,172.60 L166.30,172.60 L166.80,172.60 L167.30,172.60 L167.80,172.60 L168.30,172.60 L168.80,172.60 L169.30,172.60 L169.80,172.60 L170.30,172.60 L170.80,172.60 L171.30,172.60 L171.80,172.60 L172.30,172.60 L172.80,172.60 L173.30,172.60 L173.80,172.60 L174.30,172.60 L174.80,172.60 L175.30,172.60 L175.80,172.60 L176.30,172.60 L176.80,172.60 L177.30,172.60 L177.80,172.60 L178.30,172.60 L178.80,172.60 L179.30,172.60 L179.80,172.60 L180.30,172.60 L180.80,172.60 L181.30,172.60 L181.80,172.60 L182.30,172.60 L182.80,172.60 L183.30,172.60 L183.80,172.60 L184.30,172.60 L184.80,172.60 L185.30,172.60 L185.80,172.60 L186.30,172.60 L186.80,172.60 L187.30,172.60 L187.80,172.60 L188.30,172.60 L188.80,172.60 L189.30,172.60 L189.80,172.60 L190.30,172.60 L190.80,172.60 L191.30,172.60 L191.80,172.60 L192.30,172.60 L192.80,172.60 L193.30,172.60 L193.80,172.60 L194.30,172.60 L194.80,172.60 L195.30,172.60 L195.80,172.60 L196.30,172.60 L196.80,172.60 L197.30,172.60 L197.80,172.60 L198.30,172.60 L198.80,172.60 L199.30,172.60 L199.80,172.60 L200.30,172.60 L200.80,172.60 L201.30,172.60 L201.80,172.60 L202.30,172.60 L202.80,172.60 L203.30,172.60 L203.80,172.60 L204.30,172.60 L204.80,172.60 L205.30,172.60 L205.80,172.60 L206.30,172.60 L206.80,172.60 L207.30,172.60 L207.80,172.60 L208.30,172.60 L208.80,172.60 L209.30,172.59 L209.80,172.59 L210.30,172.59 L210.80,172.59 L211.30,172.59 L211.80,172.59 L212.30,172.59 L212.80,172.59 L213.30,172.59 L213.80,172.59 L214.30,172.59 L214.80,172.59 L215.30,172.58 L215.80,172.58 L216.30,172.58 L216.80,172.58 L217.30,172.58 L217.80,172.58 L218.30,172.58 L218.80,172.58 L219.30,172.57 L219.80,172.57 L220.30,172.57 L220.80,172.57 L221.30,172.57 L221.80,172.57 L222.30,172.57 L222.80,172.56 L223.30,172.56 L223.80,172.56 L224.30,172.56 L224.80,172.56 L225.30,172.55 L225.80,172.55 L226.30,172.55 L226.81,172.55 L227.31,172.54 L227.81,172.54 L228.31,172.53 L228.81,172.53 L229.32,172.52 L229.82,172.51 L230.32,172.50 L230.82,172.48 L231.32,172.47 L231.82,172.46 L232.32,172.44 L232.82,172.43 L233.33,172.41 L233.83,172.40 L234.33,172.38 L234.83,172.36 L235.33,172.34 L235.83,172.32 L236.33,172.31 L236.84,172.29 L237.34,172.26 L237.84,172.24 L238.35,172.21 L238.85,172.18 L239.35,172.15 L239.86,172.11 L240.36,172.08 L240.86,172.04 L241.37,172.00 L241.87,171.95 L242.37,171.91 L242.88,171.86 L243.38,171.82 L243.88,171.77 L244.38,171.71 L244.89,171.66 L245.40,171.61 L245.91,171.54 L246.42,171.47 L246.93,171.40 L247.44,171.32 L247.95,171.23 L248.45,171.14 L248.96,171.05 L249.46,170.96 L249.96,170.86 L250.46,170.76 L250.96,170.66 L251.47,170.56 L251.97,170.46 L252.47,170.36 L252.98,170.25 L253.49,170.14 L253.99,170.03 L254.50,169.92 L255.01,169.80 L255.51,169.67 L256.02,169.54 L256.53,169.41 L257.04,169.27 L257.55,169.13 L258.07,168.98 L258.59,168.81 L259.10,168.64 L259.62,168.46 L260.13,168.27 L260.64,168.08 L261.15,167.88 L261.66,167.67 L262.17,167.45 L262.68,167.23 L263.20,167.00 L263.71,166.76 L264.23,166.52 L264.74,166.26 L265.25,165.99 L265.77,165.72 L266.28,165.44 L266.79,165.16 L267.29,164.87 L267.80,164.57 L268.31,164.27 L268.81,163.96 L269.32,163.65 L269.83,163.34 L270.34,163.01 L270.86,162.68 L271.37,162.34 L271.88,161.99 L272.40,161.62 L272.91,161.25 L273.43,160.87 L273.95,160.47 L274.47,160.05 L274.99,159.61 L275.51,159.15 L276.03,158.67 L276.55,158.18 L277.06,157.67 L277.58,157.15 L278.10,156.61 L278.62,156.03 L279.13,155.45 L279.64,154.85 L280.14,154.24 L280.64,153.64 L281.14,153.04 L281.65,152.43 L282.15,151.81 L282.66,151.19 L283.16,150.57 L283.66,149.94 L284.16,149.31 L284.66,148.68 L285.16,148.06 L285.66,147.44 L286.16,146.81 L286.66,146.18 L287.17,145.55 L287.67,144.92 L288.16,144.29 L288.66,143.66 L289.16,143.04 L289.65,142.43 L290.14,141.83 L290.63,141.24 L291.12,140.67 L291.62,140.09 L292.11,139.53 L292.61,138.97 L293.09,138.43 L293.58,137.91 L294.06,137.40 L294.55,136.91 L295.04,136.43 L295.53,135.94 L296.02,135.48 L296.50,135.03 L296.97,134.61 L297.43,134.22 L297.88,133.86 L298.34,133.54 L298.82,133.23 L299.29,132.93 L299.76,132.65 L300.23,132.39 L300.69,132.15 L301.15,131.93 L301.62,131.73 L302.10,131.55 L302.58,131.38 L303.06,131.22 L303.53,131.07 L304.01,130.93 L304.48,130.81 L304.95,130.70 L305.43,130.61 L305.92,130.53 L306.41,130.46 L306.90,130.39 L307.39,130.33 L307.88,130.27 L308.37,130.21 L308.86,130.16 L309.35,130.12 L309.84,130.09 L310.34,130.06 L310.84,130.03 L311.33,130.01 L311.83,129.98 L312.33,129.96 L312.83,129.94 L313.32,129.93 L313.82,129.91 L314.32,129.89 L314.82,129.88 L315.31,129.87 L315.81,129.86 L316.31,129.85 L316.81,129.85 L317.31,129.84 L317.81,129.83 L318.31,129.83 L318.81,129.82 L319.31,129.82 L319.81,129.81 L320.30,129.81 L320.80,129.80 L321.30,129.80 L321.80,129.80 L322.30,129.80 L322.80,129.80 L323.30,129.80 L323.80,129.80 L324.30,129.80 L324.80,129.80 L325.30,129.80 L325.80,129.80 L326.30,129.80 L326.80,129.80 L327.30,129.80 L327.80,129.80 L328.30,129.80 L328.80,129.80 L329.30,129.80 L329.80,129.80 L330.30,129.80 L330.80,129.80 L331.30,129.80 L331.80,129.80 L332.30,129.80 L332.80,129.80 L333.30,129.80 L333.80,129.80 L334.30,129.80 L334.80,129.80 L335.30,129.80 L335.80,129.80 L336.30,129.80 L336.80,129.80 L337.30,129.80 L337.80,129.80 L338.30,129.80 L338.80,129.80 L339.30,129.80 L339.80,129.80 L340.30,129.80 L340.80,129.80 L341.30,129.80 L341.80,129.80 L342.30,129.80 L342.80,129.80 L343.30,129.80 L343.80,129.80 L344.30,129.80 L344.80,129.80 L345.30,129.80 L345.80,129.80 L346.30,129.80 L346.80,129.80 L347.30,129.80 L347.80,129.80 L348.30,129.80 L348.80,129.80 L349.30,129.80 L349.80,129.80 L350.30,129.80 L350.80,129.80 L351.30,129.80 L351.80,129.80 L352.30,129.80 L352.80,129.80 L353.30,129.80 L353.80,129.80 L354.30,129.80 L354.80,129.80 L355.30,129.80 L355.80,129.80 L356.30,129.80 L356.80,129.80 L357.30,129.80 L357.80,129.80 L358.30,129.80 L358.80,129.80 L359.30,129.80 L359.80,129.80 L360.30,129.80 L360.80,129.80 L361.30,129.80 L361.80,129.80 L362.30,129.80 L362.80,129.80 L363.30,129.80 L363.80,129.80 L364.30,129.80 L364.80,129.80 L365.30,129.80 L365.80,129.80 L366.30,129.80 L366.80,129.80 L367.30,129.80 L367.80,129.80 L368.30,129.80 L368.80,129.80 L369.30,129.80 L369.80,129.80 L370.30,129.80 L370.80,129.80 L371.30,129.80 L371.80,129.80 L372.30,129.80 L372.80,129.80 L373.30,129.80 L373.80,129.80 L374.30,129.80 L374.80,129.80 L375.30,129.80 L375.80,129.80 L376.30,129.80 L376.80,129.80 L377.30,129.80 L377.80,129.80 L378.30,129.80 L378.80,129.80 L379.30,129.80 L379.80,129.80 L380.30,129.80 L380.80,129.80 L381.30,129.80 L381.80,129.80 L382.30,129.80 L382.80,129.80 L383.30,129.80 L383.80,129.80 L384.30,129.80 L384.80,129.80 L385.30,129.80 L385.80,129.80 L386.30,129.80 L386.80,129.80 L387.30,129.80 L387.80,129.80 L388.30,129.80 L388.80,129.80 L389.30,129.80 L389.80,129.80 L390.30,129.80 L390.80,129.80 L391.30,129.80 L391.80,129.80 L392.30,129.80 L392.80,129.80 L393.30,129.80 L393.80,129.80 L394.30,129.80 L394.80,129.80 L395.30,129.80 L395.80,129.80 L396.30,129.80 L396.80,129.80 L397.30,129.80 L397.80,129.80 L398.30,129.80 L398.75,129.80 L398.75,128.30 L398.30,128.30 L397.80,128.30 L397.30,128.30 L396.80,128.30 L396.30,128.30 L395.80,128.30 L395.30,128.30 L394.80,128.30 L394.30,128.30 L393.80,128.30 L393.30,128.30 L392.80,128.30 L392.30,128.30 L391.80,128.30 L391.30,128.30 L390.80,128.30 L390.30,128.30 L389.80,128.30 L389.30,128.30 L388.80,128.30 L388.30,128.30 L387.80,128.30 L387.30,128.30 L386.80,128.30 L386.30,128.30 L385.80,128.30 L385.30,128.30 L384.80,128.30 L384.30,128.30 L383.80,128.30 L383.30,128.30 L382.80,128.30 L382.30,128.30 L381.80,128.30 L381.30,128.30 L380.80,128.30 L380.30,128.30 L379.80,128.30 L379.30,128.30 L378.80,128.30 L378.30,128.30 L377.80,128.30 L377.30,128.30 L376.80,128.30 L376.30,128.30 L375.80,128.30 L375.30,128.30 L374.80,128.30 L374.30,128.30 L373.80,128.30 L373.30,128.30 L372.80,128.30 L372.30,128.30 L371.80,128.30 L371.30,128.30 L370.80,128.30 L370.30,128.30 L369.80,128.30 L369.30,128.30 L368.80,128.30 L368.30,128.30 L367.80,128.30 L367.30,128.30 L366.80,128.30 L366.30,128.30 L365.80,128.30 L365.30,128.30 L364.80,128.30 L364.30,128.30 L363.80,128.30 L363.30,128.30 L362.80,128.30 L362.30,128.30 L361.80,128.30 L361.30,128.30 L360.80,128.30 L360.30,128.30 L359.80,128.30 L359.30,128.30 L358.80,128.30 L358.30,128.30 L357.80,128.30 L357.30,128.30 L356.80,128.30 L356.30,128.30 L355.80,128.30 L355.30,128.30 L354.80,128.30 L354.30,128.30 L353.80,128.30 L353.30,128.30 L352.80,128.30 L352.30,128.30 L351.80,128.30 L351.30,128.30 L350.80,128.30 L350.30,128.30 L349.80,128.30 L349.30,128.30 L348.80,128.30 L348.30,128.30 L347.80,128.30 L347.30,128.30 L346.80,128.30 L346.30,128.30 L345.80,128.30 L345.30,128.30 L344.80,128.30 L344.30,128.30 L343.80,128.30 L343.30,128.30 L342.80,128.30 L342.30,128.30 L341.80,128.30 L341.30,128.30 L340.80,128.30 L340.30,128.30 L339.80,128.30 L339.30,128.30 L338.80,128.30 L338.30,128.30 L337.80,128.30 L337.30,128.30 L336.80,128.30 L336.30,128.30 L335.80,128.30 L335.30,128.30 L334.80,128.30 L334.30,128.30 L333.80,128.30 L333.30,128.30 L332.80,128.30 L332.30,128.30 L331.80,128.30 L331.30,128.30 L330.80,128.30 L330.30,128.30 L329.80,128.30 L329.30,128.30 L328.80,128.30 L328.30,128.30 L327.80,128.30 L327.30,128.30 L326.80,128.30 L326.30,128.30 L325.80,128.30 L325.30,128.30 L324.80,128.30 L324.30,128.30 L323.80,128.30 L323.30,128.30 L322.80,128.30 L322.30,128.30 L321.80,128.30 L321.30,128.30 L320.80,128.30 L320.30,128.30 L319.79,128.31 L319.29,128.31 L318.79,128.31 L318.29,128.32 L317.79,128.32 L317.29,128.33 L316.79,128.33 L316.29,128.34 L315.79,128.35 L315.29,128.35 L314.78,128.36 L314.28,128.37 L313.78,128.38 L313.28,128.40 L312.77,128.41 L312.27,128.43 L311.77,128.45 L311.27,128.47 L310.76,128.49 L310.26,128.51 L309.76,128.54 L309.25,128.56 L308.74,128.60 L308.23,128.64 L307.72,128.68 L307.21,128.73 L306.70,128.79 L306.19,128.85 L305.68,128.92 L305.17,128.99 L304.65,129.07 L304.12,129.16 L303.59,129.26 L303.07,129.39 L302.54,129.53 L302.02,129.69 L301.50,129.85 L300.98,130.03 L300.45,130.22 L299.91,130.44 L299.37,130.69 L298.84,130.95 L298.31,131.24 L297.78,131.55 L297.26,131.87 L296.72,132.21 L296.17,132.60 L295.63,133.02 L295.10,133.46 L294.58,133.93 L294.07,134.41 L293.56,134.90 L293.05,135.39 L292.54,135.90 L292.02,136.42 L291.51,136.97 L290.99,137.52 L290.49,138.09 L289.98,138.66 L289.48,139.24 L288.97,139.82 L288.46,140.42 L287.95,141.04 L287.44,141.66 L286.94,142.28 L286.44,142.92 L285.93,143.55 L285.43,144.18 L284.94,144.81 L284.44,145.44 L283.94,146.06 L283.44,146.68 L282.94,147.31 L282.44,147.94 L281.94,148.56 L281.44,149.19 L280.94,149.81 L280.45,150.43 L279.95,151.04 L279.46,151.64 L278.96,152.24 L278.46,152.84 L277.96,153.44 L277.47,154.03 L276.98,154.60 L276.50,155.14 L276.02,155.66 L275.54,156.17 L275.05,156.66 L274.57,157.14 L274.09,157.60 L273.61,158.04 L273.13,158.46 L272.65,158.86 L272.17,159.24 L271.69,159.62 L271.20,159.98 L270.72,160.34 L270.23,160.68 L269.74,161.02 L269.26,161.34 L268.77,161.66 L268.28,161.98 L267.79,162.28 L267.29,162.59 L266.80,162.88 L266.31,163.18 L265.81,163.47 L265.32,163.75 L264.83,164.03 L264.35,164.30 L263.86,164.56 L263.37,164.81 L262.89,165.06 L262.40,165.30 L261.92,165.53 L261.43,165.75 L260.94,165.96 L260.45,166.17 L259.96,166.37 L259.47,166.57 L258.98,166.76 L258.50,166.95 L258.01,167.12 L257.53,167.29 L257.05,167.44 L256.56,167.59 L256.07,167.73 L255.58,167.87 L255.09,168.00 L254.59,168.13 L254.10,168.25 L253.61,168.37 L253.11,168.49 L252.62,168.60 L252.13,168.71 L251.63,168.81 L251.13,168.92 L250.64,169.02 L250.14,169.12 L249.64,169.22 L249.14,169.32 L248.64,169.41 L248.15,169.51 L247.65,169.60 L247.16,169.69 L246.67,169.77 L246.18,169.86 L245.69,169.93 L245.20,170.00 L244.71,170.07 L244.22,170.13 L243.72,170.18 L243.22,170.23 L242.72,170.28 L242.23,170.33 L241.73,170.38 L241.23,170.43 L240.74,170.47 L240.24,170.51 L239.74,170.55 L239.25,170.59 L238.75,170.63 L238.25,170.66 L237.76,170.69 L237.26,170.72 L236.76,170.75 L236.27,170.77 L235.77,170.79 L235.27,170.81 L234.77,170.83 L234.27,170.85 L233.77,170.87 L233.27,170.88 L232.78,170.90 L232.28,170.92 L231.78,170.93 L231.28,170.95 L230.78,170.96 L230.28,170.97 L229.78,170.99 L229.28,171.00 L228.79,171.01 L228.29,171.02 L227.79,171.03 L227.29,171.04 L226.79,171.04 L226.30,171.05 L225.80,171.05 L225.30,171.05 L224.80,171.05 L224.30,171.05 L223.80,171.06 L223.30,171.06 L222.80,171.06 L222.30,171.06 L221.80,171.06 L221.30,171.07 L220.80,171.07 L220.30,171.07 L219.80,171.07 L219.30,171.07 L218.80,171.07 L218.30,171.07 L217.80,171.08 L217.30,171.08 L216.80,171.08 L216.30,171.08 L215.80,171.08 L215.30,171.08 L214.80,171.08 L214.30,171.08 L213.80,171.09 L213.30,171.09 L212.80,171.09 L212.30,171.09 L211.80,171.09 L211.30,171.09 L210.80,171.09 L210.30,171.09 L209.80,171.09 L209.30,171.09 L208.80,171.09 L208.30,171.09 L207.80,171.10 L207.30,171.10 L206.80,171.10 L206.30,171.10 L205.80,171.10 L205.30,171.10 L204.80,171.10 L204.30,171.10 L203.80,171.10 L203.30,171.10 L202.80,171.10 L202.30,171.10 L201.80,171.10 L201.30,171.10 L200.80,171.10 L200.30,171.10 L199.80,171.10 L199.30,171.10 L198.80,171.10 L198.30,171.10 L197.80,171.10 L197.30,171.10 L196.80,171.10 L196.30,171.10 L195.80,171.10 L195.30,171.10 L194.80,171.10 L194.30,171.10 L193.80,171.10 L193.30,171.10 L192.80,171.10 L192.30,171.10 L191.80,171.10 L191.30,171.10 L190.80,171.10 L190.30,171.10 L189.80,171.10 L189.30,171.10 L188.80,171.10 L188.30,171.10 L187.80,171.10 L187.30,171.10 L186.80,171.10 L186.30,171.10 L185.80,171.10 L185.30,171.10 L184.80,171.10 L184.30,171.10 L183.80,171.10 L183.30,171.10 L182.80,171.10 L182.30,171.10 L181.80,171.10 L181.30,171.10 L180.80,171.10 L180.30,171.10 L179.80,171.10 L179.30,171.10 L178.80,171.10 L178.30,171.10 L177.80,171.10 L177.30,171.10 L176.80,171.10 L176.30,171.10 L175.80,171.10 L175.30,171.10 L174.80,171.10 L174.30,171.10 L173.80,171.10 L173.30,171.10 L172.80,171.10 L172.30,171.10 L171.80,171.10 L171.30,171.10 L170.80,171.10 L170.30,171.10 L169.80,171.10 L169.30,171.10 L168.80,171.10 L168.30,171.10 L167.80,171.10 L167.30,171.10 L166.80,171.10 L166.30,171.10 L165.80,171.10 L165.30,171.10 L164.80,171.10 L164.30,171.10 L163.80,171.10 L163.30,171.10 L162.80,171.10 L162.30,171.10 L161.80,171.10 L161.30,171.10 L160.80,171.10 L160.30,171.10 L159.80,171.10 L159.30,171.10 L158.80,171.10 L158.30,171.10 L157.80,171.10 L157.30,171.10 L156.80,171.10 L156.30,171.10 L155.80,171.10 L155.30,171.10 L154.80,171.10 L154.30,171.10 L153.80,171.10 L153.30,171.10 L152.80,171.10 L152.30,171.10 L151.80,171.10 L151.30,171.10 L150.80,171.10 L150.30,171.10 L149.80,171.10 L149.30,171.10 L148.80,171.10 L148.30,171.10 L147.80,171.10 L147.30,171.10 L146.80,171.10 L146.30,171.10 L145.80,171.10 L145.30,171.10 L144.80,171.10 L144.30,171.10 L143.80,171.10 L143.30,171.10 L142.80,171.10 L142.30,171.10 L141.80,171.10 L141.30,171.10 L140.80,171.10 L140.30,171.10 L139.80,171.10 L139.30,171.10 L138.80,171.10 L138.30,171.10 L137.80,171.10 L137.30,171.10 L136.80,171.10 L136.30,171.10 L135.80,171.10 L135.30,171.10 L134.80,171.10 L134.30,171.10 L133.80,171.10 L133.30,171.10 L132.80,171.10 L132.30,171.10 L131.80,171.10 L131.30,171.10 L130.80,171.10 L130.30,171.10 L129.80,171.10 L129.30,171.10 L128.80,171.10 L128.30,171.10 L127.80,171.10 L127.30,171.10 L126.80,171.10 L126.30,171.10 L125.80,171.10 L125.30,171.10 L124.80,171.10 L124.30,171.10 L123.80,171.10 L123.30,171.10 L122.80,171.10 L122.30,171.10 L121.80,171.10 L121.30,171.10 L120.80,171.10 L120.30,171.10 L119.80,171.10 L119.30,171.10 L118.80,171.10 L118.30,171.10 L117.80,171.10 L117.30,171.10 L116.80,171.10 L116.30,171.10 L115.80,171.10 L115.30,171.10 L114.80,171.10 L114.30,171.10 L113.80,171.10 L113.30,171.10 L112.80,171.10 L112.30,171.10 L111.80,171.10 L111.30,171.10 L110.80,171.10 L110.30,171.10 L109.80,171.10 L109.30,171.10 L108.80,171.10 L108.30,171.10 L107.80,171.10 L107.30,171.10 L106.80,171.10 L106.30,171.10 L105.80,171.10 L105.30,171.10 L104.80,171.10 L104.30,171.10 L103.80,171.10 L103.30,171.10 L102.80,171.10 L102.30,171.10 L101.80,171.10 L101.30,171.10 L100.80,171.10 L100.30,171.10 L99.80,171.10 L99.30,171.10 L98.80,171.10 L98.30,171.10 L97.80,171.10 L97.30,171.10 L96.80,171.10 L96.30,171.10 L95.80,171.10 L95.30,171.10 L94.80,171.10 L94.30,171.10 L93.80,171.10 L93.30,171.10 L92.80,171.10 L92.30,171.10 L91.80,171.10 L91.30,171.10 L90.80,171.10 L90.30,171.10 L89.80,171.10 L89.30,171.10 L88.80,171.10 L88.30,171.10 L87.80,171.10 L87.30,171.10 L86.80,171.10 L86.30,171.10 L85.80,171.10 L85.30,171.10 L84.80,171.10 L84.30,171.10 L83.80,171.10 L83.30,171.10 L82.80,171.10 L82.30,171.10 L81.80,171.10 L81.30,171.10 L80.80,171.10 L80.30,171.10 L79.80,171.10 L79.30,171.10 L78.80,171.10 L78.30,171.10 L77.80,171.10 L77.30,171.10 L76.80,171.10 L76.30,171.10 L75.80,171.10 L75.30,171.10 L74.80,171.10 L74.30,171.10 L73.80,171.10 L73.30,171.10 L72.80,171.10 L72.30,171.10 L71.80,171.10 L71.30,171.10 L70.80,171.10 L70.30,171.10 L69.80,171.10 L69.30,171.10 L68.80,171.10 L68.30,171.10 L67.80,171.10 L67.30,171.10 L66.80,171.10 L66.30,171.10 L65.80,171.10 L65.30,171.10 L64.80,171.10 L64.30,171.10 L63.80,171.10 L63.30,171.10 L62.80,171.10 L62.30,171.10 L61.80,171.10 L61.30,171.10 L60.80,171.10 L60.30,171.10 L59.80,171.10 L59.30,171.10 L58.80,171.10 L58.30,171.10 L57.80,171.10 L57.30,171.10 L56.80,171.10 L56.30,171.10 L55.80,171.10 L55.30,171.10 L54.80,171.10 L54.30,171.10 L53.80,171.10 L53.30,171.10 L52.80,171.10 L52.30,171.10 L51.80,171.10 L51.30,171.10 L50.80,171.10 L50.30,171.10 L49.80,171.10 L49.30,171.10 L48.80,171.10 L48.30,171.10 L47.80,171.10 L47.30,171.10 L46.80,171.10 L46.30,171.10 L45.80,171.10 L45.30,171.10 L44.80,171.10 L44.30,171.10 L43.80,171.10 L43.30,171.10 L42.80,171.10Z" fill="#00008c"/>
<path d="M42.80,245.60 L43.20,245.60 L43.60,245.60 L44.00,245.60 L44.40,245.60 L44.80,245.60 L45.20,245.60 L45.60,245.60 L46.00,245.60 L46.40,245.60 L46.80,245.60 L47.20,245.60 L47.60,245.60 L48.00,245.60 L48.25,245.60 L48.25,243.90 L48.00,243.90 L47.60,243.90 L47.20,243.90 L46.80,243.90 L46.40,243.90 L46.00,243.90 L45.60,243.90 L45.20,243.90 L44.80,243.90 L44.40,243.90 L44.00,243.90 L43.60,243.90 L43.20,243.90 L42.80,243.90ZM51.55,245.60 L51.95,245.60 L52.35,245.60 L52.75,245.60 L53.15,245.60 L53.55,245.60 L53.95,245.60 L54.35,245.60 L54.75,245.60 L55.15,245.60 L55.55,245.60 L55.95,245.60 L56.35,245.60 L56.70,245.60 L56.70,243.90 L56.35,243.90 L55.95,243.90 L55.55,243.90 L55.15,243.90 L54.75,243.90 L54.35,243.90 L53.95,243.90 L53.55,243.90 L53.15,243.90 L52.75,243.90 L52.35,243.90 L51.95,243.90 L51.55,243.90ZM60.00,245.60 L60.40,245.60 L60.80,245.60 L61.20,245.60 L61.60,245.60 L62.00,245.60 L62.40,245.60 L62.80,245.60 L63.20,245.60 L63.60,245.60 L64.00,245.60 L64.40,245.60 L64.80,245.60 L65.15,245.60 L65.15,243.90 L64.80,243.90 L64.40,243.90 L64.00,243.90 L63.60,243.90 L63.20,243.90 L62.80,243.90 L62.40,243.90 L62.00,243.90 L61.60,243.90 L61.20,243.90 L60.80,243.90 L60.40,243.90 L60.00,243.90ZM68.45,245.60 L68.85,245.60 L69.25,245.60 L69.65,245.60 L70.05,245.60 L70.45,245.60 L70.85,245.60 L71.25,245.60 L71.65,245.60 L72.05,245.60 L72.45,245.60 L72.85,245.60 L73.25,245.60 L73.60,245.60 L73.60,243.90 L73.25,243.90 L72.85,243.90 L72.45,243.90 L72.05,243.90 L71.65,243.90 L71.25,243.90 L70.85,243.90 L70.45,243.90 L70.05,243.90 L69.65,243.90 L69.25,243.90 L68.85,243.90 L68.45,243.90ZM76.90,245.60 L77.30,245.60 L77.70,245.60 L78.10,245.60 L78.50,245.60 L78.90,245.60 L79.30,245.60 L79.70,245.60 L80.10,245.60 L80.50,245.60 L80.90,245.60 L81.30,245.60 L81.70,245.60 L82.05,245.60 L82.05,243.90 L81.70,243.90 L81.30,243.90 L80.90,243.90 L80.50,243.90 L80.10,243.90 L79.70,243.90 L79.30,243.90 L78.90,243.90 L78.50,243.90 L78.10,243.90 L77.70,243.90 L77.30,243.90 L76.90,243.90ZM85.35,245.60 L85.75,245.60 L86.15,245.60 L86.55,245.60 L86.95,245.60 L87.35,245.60 L87.75,245.60 L88.15,245.60 L88.55,245.60 L88.95,245.60 L89.35,245.60 L89.75,245.60 L90.15,245.60 L90.50,245.60 L90.50,243.90 L90.15,243.90 L89.75,243.90 L89.35,243.90 L88.95,243.90 L88.55,243.90 L88.15,243.90 L87.75,243.90 L87.35,243.90 L86.95,243.90 L86.55,243.90 L86.15,243.90 L85.75,243.90 L85.35,243.90ZM93.80,245.60 L94.20,245.60 L94.60,245.60 L95.00,245.60 L95.40,245.60 L95.80,245.60 L96.20,245.60 L96.60,245.60 L97.00,245.60 L97.40,245.60 L97.80,245.60 L98.20,245.60 L98.60,245.60 L98.95,245.60 L98.95,243.90 L98.60,243.90 L98.20,243.90 L97.80,243.90 L97.40,243.90 L97.00,243.90 L96.60,243.90 L96.20,243.90 L95.80,243.90 L95.40,243.90 L95.00,243.90 L94.60,243.90 L94.20,243.90 L93.80,243.90ZM102.25,245.60 L102.65,245.60 L103.05,245.60 L103.45,245.60 L103.85,245.60 L104.25,245.60 L104.65,245.60 L105.05,245.60 L105.45,245.60 L105.85,245.60 L106.25,245.60 L106.65,245.60 L107.05,245.60 L107.40,245.60 L107.40,243.90 L107.05,243.90 L106.65,243.90 L106.25,243.90 L105.85,243.90 L105.45,243.90 L105.05,243.90 L104.65,243.90 L104.25,243.90 L103.85,243.90 L103.45,243.90 L103.05,243.90 L102.65,243.90 L102.25,243.90ZM110.70,245.60 L111.10,245.60 L111.50,245.60 L111.90,245.60 L112.30,245.60 L112.70,245.60 L113.10,245.60 L113.50,245.60 L113.90,245.60 L114.30,245.60 L114.70,245.60 L115.10,245.60 L115.50,245.60 L115.85,245.60 L115.85,243.90 L115.50,243.90 L115.10,243.90 L114.70,243.90 L114.30,243.90 L113.90,243.90 L113.50,243.90 L113.10,243.90 L112.70,243.90 L112.30,243.90 L111.90,243.90 L111.50,243.90 L111.10,243.90 L110.70,243.90ZM119.15,245.60 L119.55,245.60 L119.95,245.60 L120.35,245.60 L120.75,245.60 L121.15,245.60 L121.55,245.60 L121.95,245.60 L122.35,245.60 L122.75,245.60 L123.15,245.60 L123.55,245.60 L123.95,245.60 L124.30,245.60 L124.30,243.90 L123.95,243.90 L123.55,243.90 L123.15,243.90 L122.75,243.90 L122.35,243.90 L121.95,243.90 L121.55,243.90 L121.15,243.90 L120.75,243.90 L120.35,243.90 L119.95,243.90 L119.55,243.90 L119.15,243.90ZM127.60,245.60 L128.00,245.60 L128.40,245.60 L128.80,245.60 L129.20,245.60 L129.60,245.60 L130.00,245.60 L130.40,245.60 L130.80,245.60 L131.20,245.60 L131.60,245.60 L132.00,245.60 L132.40,245.60 L132.75,245.60 L132.75,243.90 L132.40,243.90 L132.00,243.90 L131.60,243.90 L131.20,243.90 L130.80,243.90 L130.40,243.90 L130.00,243.90 L129.60,243.90 L129.20,243.90 L128.80,243.90 L128.40,243.90 L128.00,243.90 L127.60,243.90ZM136.05,245.60 L136.45,245.60 L136.85,245.60 L137.25,245.60 L137.65,245.60 L138.05,245.60 L138.45,245.60 L138.85,245.60 L139.25,245.60 L139.65,245.60 L140.05,245.60 L140.45,245.60 L140.85,245.60 L141.20,245.60 L141.20,243.90 L140.85,243.90 L140.45,243.90 L140.05,243.90 L139.65,243.90 L139.25,243.90 L138.85,243.90 L138.45,243.90 L138.05,243.90 L137.65,243.90 L137.25,243.90 L136.85,243.90 L136.45,243.90 L136.05,243.90ZM144.50,245.60 L144.90,245.60 L145.30,245.60 L145.70,245.60 L146.10,245.60 L146.50,245.60 L146.90,245.60 L147.30,245.60 L147.70,245.60 L148.10,245.60 L148.50,245.60 L148.90,245.60 L149.30,245.60 L149.65,245.60 L149.65,243.90 L149.30,243.90 L148.90,243.90 L148.50,243.90 L148.10,243.90 L147.70,243.90 L147.30,243.90 L146.90,243.90 L146.50,243.90 L146.10,243.90 L145.70,243.90 L145.30,243.90 L144.90,243.90 L144.50,243.90ZM152.95,245.60 L153.35,245.60 L153.75,245.60 L154.15,245.60 L154.55,245.60 L154.95,245.60 L155.35,245.60 L155.75,245.60 L156.15,245.60 L156.55,245.60 L156.95,245.60 L157.35,245.60 L157.75,245.60 L158.10,245.60 L158.10,243.90 L157.75,243.90 L157.35,243.90 L156.95,243.90 L156.55,243.90 L156.15,243.90 L155.75,243.90 L155.35,243.90 L154.95,243.90 L154.55,243.90 L154.15,243.90 L153.75,243.90 L153.35,243.90 L152.95,243.90ZM161.40,245.60 L161.80,245.60 L162.20,245.60 L162.60,245.60 L163.00,245.60 L163.40,245.60 L163.80,245.60 L164.20,245.60 L164.60,245.60 L165.00,245.60 L165.40,245.60 L165.80,245.60 L166.20,245.60 L166.55,245.60 L166.55,243.90 L166.20,243.90 L165.80,243.90 L165.40,243.90 L165.00,243.90 L164.60,243.90 L164.20,243.90 L163.80,243.90 L163.40,243.90 L163.00,243.90 L162.60,243.90 L162.20,243.90 L161.80,243.90 L161.40,243.90ZM169.85,245.60 L170.25,245.60 L170.65,245.60 L171.05,245.60 L171.45,245.60 L171.85,245.60 L172.25,245.60 L172.65,245.60 L173.05,245.60 L173.45,245.60 L173.85,245.60 L174.25,245.60 L174.65,245.60 L175.00,245.60 L175.00,243.90 L174.65,243.90 L174.25,243.90 L173.85,243.90 L173.45,243.90 L173.05,243.90 L172.65,243.90 L172.25,243.90 L171.85,243.90 L171.45,243.90 L171.05,243.90 L170.65,243.90 L170.25,243.90 L169.85,243.90ZM178.30,245.60 L178.70,245.60 L179.10,245.60 L179.50,245.60 L179.90,245.60 L180.30,245.60 L180.70,245.60 L181.10,245.60 L181.50,245.60 L181.90,245.60 L182.30,245.60 L182.70,245.60 L183.10,245.60 L183.45,245.60 L183.45,243.90 L183.10,243.90 L182.70,243.90 L182.30,243.90 L181.90,243.90 L181.50,243.90 L181.10,243.90 L180.70,243.90 L180.30,243.90 L179.90,243.90 L179.50,243.90 L179.10,243.90 L178.70,243.90 L178.30,243.90ZM186.75,245.60 L187.15,245.60 L187.55,245.60 L187.95,245.60 L188.35,245.60 L188.75,245.60 L189.15,245.60 L189.55,245.60 L189.95,245.60 L190.35,245.60 L190.75,245.60 L191.15,245.60 L191.55,245.60 L191.90,245.60 L191.90,243.90 L191.55,243.90 L191.15,243.90 L190.75,243.90 L190.35,243.90 L189.95,243.90 L189.55,243.90 L189.15,243.90 L188.75,243.90 L188.35,243.90 L187.95,243.90 L187.55,243.90 L187.15,243.90 L186.75,243.90ZM195.20,245.60 L195.60,245.60 L196.00,245.60 L196.40,245.60 L196.80,245.60 L197.20,245.60 L197.60,245.60 L198.00,245.59 L198.40,245.59 L198.80,245.59 L199.20,245.59 L199.60,245.59 L200.00,245.59 L200.35,245.59 L200.35,243.89 L200.00,243.89 L199.60,243.89 L199.20,243.89 L198.80,243.89 L198.40,243.89 L198.00,243.89 L197.60,243.89 L197.20,243.90 L196.80,243.90 L196.40,243.90 L196.00,243.90 L195.60,243.90 L195.20,243.90ZM203.65,245.58 L204.05,245.58 L204.45,245.58 L204.85,245.58 L205.25,245.58 L205.65,245.58 L206.05,245.58 L206.45,245.58 L206.85,245.58 L207.25,245.58 L207.65,245.57 L208.05,245.57 L208.45,245.57 L208.80,245.57 L208.80,243.87 L208.45,243.87 L208.05,243.87 L207.65,243.87 L207.25,243.87 L206.85,243.88 L206.45,243.88 L206.05,243.88 L205.65,243.88 L205.25,243.88 L204.85,243.88 L204.45,243.88 L204.05,243.88 L203.65,243.88ZM212.10,245.56 L212.50,245.56 L212.90,245.56 L213.30,245.56 L213.70,245.56 L214.10,245.55 L214.50,245.55 L214.90,245.55 L215.30,245.55 L215.70,245.55 L216.10,245.55 L216.50,245.54 L216.90,245.54 L217.26,245.54 L217.24,243.84 L216.90,243.84 L216.50,243.84 L216.10,243.84 L215.70,243.85 L215.30,243.85 L214.90,243.85 L214.50,243.85 L214.10,243.85 L213.70,243.85 L213.30,243.86 L212.90,243.86 L212.50,243.86 L212.10,243.86ZM220.56,245.52 L220.96,245.51 L221.36,245.51 L221.76,245.50 L222.16,245.50 L222.56,245.49 L222.96,245.49 L223.36,245.48 L223.76,245.48 L224.16,245.47 L224.56,245.47 L224.96,245.46 L225.36,245.45 L225.71,245.45 L225.69,243.74 L225.34,243.74 L224.94,243.75 L224.54,243.76 L224.14,243.76 L223.74,243.77 L223.34,243.77 L222.94,243.78 L222.54,243.79 L222.14,243.79 L221.74,243.80 L221.34,243.80 L220.94,243.81 L220.54,243.81ZM228.98,245.38 L229.39,245.37 L229.79,245.35 L230.19,245.33 L230.60,245.31 L231.00,245.29 L231.40,245.26 L231.81,245.24 L232.21,245.21 L232.61,245.19 L233.01,245.16 L233.41,245.13 L233.82,245.10 L234.27,245.07 L234.13,243.32 L233.68,243.36 L233.29,243.39 L232.89,243.42 L232.49,243.45 L232.09,243.48 L231.69,243.50 L231.30,243.53 L230.90,243.56 L230.50,243.58 L230.11,243.60 L229.71,243.62 L229.31,243.64 L228.92,243.66ZM237.42,244.72 L237.82,244.67 L238.22,244.62 L238.62,244.56 L239.02,244.51 L239.42,244.46 L239.82,244.40 L240.22,244.35 L240.62,244.29 L241.03,244.24 L241.43,244.18 L241.83,244.12 L242.24,244.06 L242.64,244.00 L242.79,243.97 L242.51,242.20 L242.36,242.23 L241.96,242.29 L241.57,242.35 L241.17,242.41 L240.77,242.47 L240.38,242.53 L239.98,242.58 L239.58,242.64 L239.18,242.69 L238.78,242.74 L238.38,242.80 L237.98,242.85 L237.58,242.91 L237.18,242.96ZM245.88,243.39 L246.28,243.29 L246.69,243.18 L247.10,243.07 L247.51,242.96 L247.92,242.84 L248.33,242.71 L248.74,242.59 L249.15,242.45 L249.56,242.32 L249.96,242.18 L250.37,242.04 L250.79,241.89 L251.20,241.74 L251.50,241.62 L250.80,239.83 L250.50,239.95 L250.11,240.10 L249.73,240.25 L249.34,240.39 L248.94,240.53 L248.55,240.66 L248.16,240.79 L247.77,240.92 L247.38,241.04 L246.99,241.16 L246.60,241.28 L246.21,241.39 L245.82,241.50 L245.42,241.60ZM254.10,240.46 L254.51,240.26 L254.93,240.04 L255.35,239.81 L255.78,239.56 L256.21,239.30 L256.63,239.02 L257.05,238.73 L257.47,238.43 L257.88,238.12 L258.29,237.80 L258.70,237.48 L259.10,237.16 L259.50,236.83 L258.20,235.22 L257.80,235.54 L257.40,235.86 L257.01,236.18 L256.62,236.48 L256.23,236.78 L255.85,237.07 L255.47,237.34 L255.09,237.60 L254.72,237.85 L254.35,238.08 L253.97,238.29 L253.59,238.50 L253.20,238.71ZM261.45,235.28 L261.85,234.96 L262.28,234.62 L262.71,234.25 L263.14,233.86 L263.58,233.42 L264.01,232.95 L264.44,232.46 L264.85,231.94 L265.27,231.41 L265.67,230.87 L265.98,230.47 L264.22,229.17 L263.93,229.57 L263.53,230.09 L263.15,230.60 L262.76,231.08 L262.39,231.54 L262.02,231.96 L261.66,232.34 L261.29,232.69 L260.92,233.03 L260.55,233.35 L260.15,233.66ZM267.48,228.44 L267.88,227.89 L268.29,227.33 L268.69,226.77 L269.10,226.20 L269.50,225.62 L269.91,225.03 L270.31,224.43 L270.72,223.82 L271.17,223.14 L269.33,221.93 L268.88,222.61 L268.49,223.21 L268.09,223.79 L267.70,224.37 L267.30,224.94 L266.91,225.50 L266.51,226.06 L266.12,226.60 L265.72,227.15ZM272.54,220.98 L272.94,220.33 L273.35,219.66 L273.76,218.98 L274.16,218.29 L274.57,217.58 L274.97,216.85 L275.38,216.11 L275.78,215.36 L273.82,214.31 L273.42,215.06 L273.03,215.78 L272.63,216.48 L272.24,217.18 L271.84,217.86 L271.45,218.52 L271.06,219.18 L270.66,219.83ZM276.96,213.03 L277.36,212.20 L277.76,211.35 L278.17,210.49 L278.57,209.64 L278.97,208.78 L279.37,207.92 L279.72,207.17 L277.68,206.22 L277.33,206.98 L276.93,207.83 L276.53,208.69 L276.13,209.54 L275.74,210.39 L275.34,211.23 L274.94,212.06ZM280.77,204.86 L281.18,203.97 L281.58,203.07 L281.98,202.16 L282.38,201.25 L282.78,200.33 L283.18,199.40 L283.38,198.93 L281.32,198.04 L281.12,198.51 L280.72,199.43 L280.32,200.35 L279.92,201.26 L279.52,202.16 L279.12,203.05 L278.73,203.94ZM284.39,196.57 L284.79,195.62 L285.19,194.65 L285.60,193.66 L286.00,192.66 L286.40,191.64 L286.80,190.61 L284.70,189.79 L284.30,190.82 L283.90,191.83 L283.50,192.82 L283.11,193.79 L282.71,194.75 L282.31,195.70ZM287.67,188.24 L288.07,187.09 L288.47,185.93 L288.87,184.79 L289.26,183.69 L289.66,182.64 L289.81,182.25 L287.69,181.44 L287.54,181.84 L287.14,182.91 L286.73,184.04 L286.33,185.19 L285.93,186.34 L285.53,187.49ZM290.70,179.96 L291.10,178.96 L291.49,177.99 L291.89,177.05 L292.28,176.14 L292.67,175.26 L293.07,174.40 L293.21,174.09 L291.19,173.13 L291.03,173.45 L290.63,174.32 L290.22,175.23 L289.81,176.17 L289.41,177.13 L289.00,178.12 L288.60,179.12ZM294.29,171.89 L294.69,171.11 L295.09,170.35 L295.49,169.59 L295.89,168.83 L296.29,168.05 L296.69,167.27 L297.09,166.49 L297.24,166.21 L295.26,165.18 L295.11,165.47 L294.71,166.25 L294.31,167.03 L293.91,167.80 L293.51,168.55 L293.11,169.31 L292.71,170.08 L292.31,170.87ZM298.38,164.19 L298.76,163.67 L299.12,163.22 L299.49,162.79 L299.86,162.39 L300.23,162.01 L300.59,161.67 L300.96,161.34 L301.33,161.04 L301.70,160.76 L302.09,160.48 L302.48,160.20 L302.67,160.08 L301.53,158.38 L301.32,158.52 L300.91,158.81 L300.50,159.10 L300.07,159.40 L299.64,159.74 L299.21,160.10 L298.77,160.48 L298.34,160.90 L297.91,161.34 L297.48,161.82 L297.04,162.33 L296.62,162.90ZM304.82,158.96 L305.21,158.84 L305.59,158.72 L305.97,158.62 L306.35,158.52 L306.73,158.43 L307.11,158.35 L307.49,158.28 L307.87,158.22 L308.25,158.16 L308.63,158.12 L309.02,158.08 L309.42,158.05 L309.81,158.02 L310.01,158.00 L309.89,156.26 L309.69,156.28 L309.28,156.31 L308.88,156.34 L308.47,156.37 L308.05,156.41 L307.63,156.45 L307.21,156.51 L306.79,156.57 L306.37,156.65 L305.95,156.74 L305.53,156.83 L305.11,156.93 L304.69,157.04 L304.28,157.16ZM313.21,157.85 L313.61,157.85 L314.01,157.84 L314.41,157.84 L314.81,157.83 L315.21,157.83 L315.61,157.82 L316.01,157.82 L316.41,157.82 L316.81,157.81 L317.21,157.81 L317.60,157.81 L318.00,157.81 L318.35,157.80 L318.35,156.10 L318.00,156.10 L317.60,156.10 L317.19,156.11 L316.79,156.11 L316.39,156.11 L315.99,156.11 L315.59,156.12 L315.19,156.12 L314.79,156.13 L314.39,156.13 L313.99,156.13 L313.59,156.14 L313.19,156.14ZM321.65,157.80 L322.05,157.80 L322.45,157.80 L322.85,157.80 L323.25,157.80 L323.65,157.80 L324.05,157.80 L324.45,157.80 L324.85,157.80 L325.25,157.80 L325.65,157.80 L326.05,157.80 L326.45,157.80 L326.80,157.80 L326.80,156.10 L326.45,156.10 L326.05,156.10 L325.65,156.10 L325.25,156.10 L324.85,156.10 L324.45,156.10 L324.05,156.10 L323.65,156.10 L323.25,156.10 L322.85,156.10 L322.45,156.10 L322.05,156.10 L321.65,156.10ZM330.10,157.80 L330.50,157.80 L330.90,157.80 L331.30,157.80 L331.70,157.80 L332.10,157.80 L332.50,157.80 L332.90,157.80 L333.30,157.80 L333.70,157.80 L334.10,157.80 L334.50,157.80 L334.90,157.80 L335.25,157.80 L335.25,156.10 L334.90,156.10 L334.50,156.10 L334.10,156.10 L333.70,156.10 L333.30,156.10 L332.90,156.10 L332.50,156.10 L332.10,156.10 L331.70,156.10 L331.30,156.10 L330.90,156.10 L330.50,156.10 L330.10,156.10ZM338.55,157.80 L338.95,157.80 L339.35,157.80 L339.75,157.80 L340.15,157.80 L340.55,157.80 L340.95,157.80 L341.35,157.80 L341.75,157.80 L342.15,157.80 L342.55,157.80 L342.95,157.80 L343.35,157.80 L343.70,157.80 L343.70,156.10 L343.35,156.10 L342.95,156.10 L342.55,156.10 L342.15,156.10 L341.75,156.10 L341.35,156.10 L340.95,156.10 L340.55,156.10 L340.15,156.10 L339.75,156.10 L339.35,156.10 L338.95,156.10 L338.55,156.10ZM347.00,157.80 L347.40,157.80 L347.80,157.80 L348.20,157.80 L348.60,157.80 L349.00,157.80 L349.40,157.80 L349.80,157.80 L350.20,157.80 L350.60,157.80 L351.00,157.80 L351.40,157.80 L351.80,157.80 L352.15,157.80 L352.15,156.10 L351.80,156.10 L351.40,156.10 L351.00,156.10 L350.60,156.10 L350.20,156.10 L349.80,156.10 L349.40,156.10 L349.00,156.10 L348.60,156.10 L348.20,156.10 L347.80,156.10 L347.40,156.10 L347.00,156.10ZM355.45,157.80 L355.85,157.80 L356.25,157.80 L356.65,157.80 L357.05,157.80 L357.45,157.80 L357.85,157.80 L358.25,157.80 L358.65,157.80 L359.05,157.80 L359.45,157.80 L359.85,157.80 L360.25,157.80 L360.60,157.80 L360.60,156.10 L360.25,156.10 L359.85,156.10 L359.45,156.10 L359.05,156.10 L358.65,156.10 L358.25,156.10 L357.85,156.10 L357.45,156.10 L357.05,156.10 L356.65,156.10 L356.25,156.10 L355.85,156.10 L355.45,156.10ZM363.90,157.80 L364.30,157.80 L364.70,157.80 L365.10,157.80 L365.50,157.80 L365.90,157.80 L366.30,157.80 L366.70,157.80 L367.10,157.80 L367.50,157.80 L367.90,157.80 L368.30,157.80 L368.70,157.80 L369.05,157.80 L369.05,156.10 L368.70,156.10 L368.30,156.10 L367.90,156.10 L367.50,156.10 L367.10,156.10 L366.70,156.10 L366.30,156.10 L365.90,156.10 L365.50,156.10 L365.10,156.10 L364.70,156.10 L364.30,156.10 L363.90,156.10ZM372.35,157.80 L372.75,157.80 L373.15,157.80 L373.55,157.80 L373.95,157.80 L374.35,157.80 L374.75,157.80 L375.15,157.80 L375.55,157.80 L375.95,157.80 L376.35,157.80 L376.75,157.80 L377.15,157.80 L377.50,157.80 L377.50,156.10 L377.15,156.10 L376.75,156.10 L376.35,156.10 L375.95,156.10 L375.55,156.10 L375.15,156.10 L374.75,156.10 L374.35,156.10 L373.95,156.10 L373.55,156.10 L373.15,156.10 L372.75,156.10 L372.35,156.10ZM380.80,157.80 L381.20,157.80 L381.60,157.80 L382.00,157.80 L382.40,157.80 L382.80,157.80 L383.20,157.80 L383.60,157.80 L384.00,157.80 L384.40,157.80 L384.80,157.80 L385.20,157.80 L385.60,157.80 L385.95,157.80 L385.95,156.10 L385.60,156.10 L385.20,156.10 L384.80,156.10 L384.40,156.10 L384.00,156.10 L383.60,156.10 L383.20,156.10 L382.80,156.10 L382.40,156.10 L382.00,156.10 L381.60,156.10 L381.20,156.10 L380.80,156.10ZM389.25,157.80 L389.65,157.80 L390.05,157.80 L390.45,157.80 L390.85,157.80 L391.25,157.80 L391.65,157.80 L392.05,157.80 L392.45,157.80 L392.85,157.80 L393.25,157.80 L393.65,157.80 L394.05,157.80 L394.40,157.80 L394.40,156.10 L394.05,156.10 L393.65,156.10 L393.25,156.10 L392.85,156.10 L392.45,156.10 L392.05,156.10 L391.65,156.10 L391.25,156.10 L390.85,156.10 L390.45,156.10 L390.05,156.10 L389.65,156.10 L389.25,156.10ZM397.70,157.80 L398.10,157.80 L398.50,157.80 L398.75,157.80 L398.75,156.10 L398.50,156.10 L398.10,156.10 L397.70,156.10Z" fill="#ff0000"/>
<path d="M42.80,12.50 L44.80,12.50 L46.80,12.50 L48.80,12.50 L50.80,12.50 L52.80,12.50 L54.80,12.50 L56.80,12.50 L58.80,12.50 L60.80,12.50 L62.80,12.50 L64.80,12.50 L66.80,12.50 L68.80,12.50 L70.80,12.50 L72.80,12.50 L74.80,12.50 L76.80,12.50 L78.80,12.50 L80.80,12.50 L82.80,12.50 L84.80,12.50 L86.80,12.50 L88.80,12.50 L90.80,12.50 L92.80,12.50 L94.80,12.50 L96.80,12.50 L98.80,12.50 L100.80,12.50 L102.80,12.50 L104.80,12.50 L106.80,12.50 L108.80,12.50 L110.80,12.50 L112.80,12.50 L114.80,12.50 L116.80,12.50 L118.80,12.50 L120.80,12.50 L122.80,12.50 L124.80,12.50 L126.80,12.50 L128.80,12.50 L130.80,12.50 L132.80,12.50 L134.80,12.50 L136.80,12.50 L138.80,12.50 L140.80,12.50 L142.80,12.50 L144.80,12.50 L146.80,12.50 L148.80,12.50 L150.80,12.50 L152.80,12.50 L154.80,12.50 L156.80,12.50 L158.80,12.50 L160.80,12.50 L162.80,12.50 L164.80,12.50 L166.80,12.50 L168.80,12.50 L170.80,12.50 L172.80,12.50 L174.80,12.50 L176.80,12.50 L178.80,12.50 L180.80,12.50 L182.80,12.50 L184.80,12.50 L186.80,12.50 L188.80,12.50 L190.80,12.50 L192.80,12.50 L194.80,12.50 L196.80,12.50 L198.80,12.50 L200.80,12.50 L202.80,12.50 L204.80,12.50 L206.80,12.50 L208.80,12.50 L210.80,12.50 L212.80,12.50 L214.80,12.50 L216.80,12.50 L218.80,12.50 L220.80,12.50 L222.80,12.50 L224.80,12.50 L226.80,12.50 L228.80,12.50 L230.80,12.50 L232.80,12.50 L234.80,12.50 L236.80,12.50 L238.80,12.50 L240.80,12.50 L242.80,12.50 L244.80,12.50 L246.80,12.50 L248.80,12.50 L250.80,12.50 L252.80,12.50 L254.80,12.50 L256.80,12.50 L258.80,12.50 L260.80,12.50 L262.80,12.50 L264.80,12.50 L266.80,12.50 L268.80,12.50 L270.80,12.50 L272.80,12.52 L274.80,12.57 L276.80,12.62 L278.80,12.67 L280.80,12.72 L282.80,12.78 L284.80,12.84 L286.80,12.90 L288.80,12.97 L290.80,13.02 L292.80,13.07 L294.80,13.12 L296.80,13.17 L298.80,13.22 L300.80,13.29 L302.80,13.35 L304.80,13.39 L306.80,13.40 L308.80,13.40 L310.80,13.41 L312.80,13.41 L314.80,13.41 L316.80,13.41 L318.80,13.42 L320.80,13.42 L322.80,13.42 L324.80,13.42 L326.80,13.42 L328.80,13.43 L330.80,13.43 L332.80,13.43 L334.80,13.43 L336.80,13.43 L338.80,13.43 L340.80,13.44 L342.80,13.44 L344.80,13.44 L346.80,13.44 L348.80,13.44 L350.80,13.44 L352.80,13.44 L354.80,13.44 L356.80,13.44 L358.80,13.44 L360.80,13.44 L362.80,13.45 L364.80,13.45 L366.80,13.45 L368.80,13.45 L370.80,13.45 L372.80,13.45 L374.80,13.45 L376.80,13.45 L378.80,13.45 L380.80,13.45 L382.80,13.45 L384.80,13.45 L386.80,13.45 L388.80,13.45 L390.80,13.45 L392.80,13.45 L394.80,13.45 L396.80,13.45 L398.75,13.45" stroke="#0000ff" stroke-width="1.7" stroke-dasharray="3.3 3.686" stroke-dashoffset="0.4"/>
<line x1="42.8" y1="244.95" x2="398.75" y2="244.95" stroke="#000" stroke-opacity="0.5" stroke-width="0.8" stroke-dasharray="1 1.04"/>
<line x1="56" y1="18.4" x2="77.7" y2="18.4" stroke="#a00000" stroke-width="1.7"/>
<line x1="56" y1="35.3" x2="77.7" y2="35.3" stroke="#00a000" stroke-width="1.7"/>
<line x1="56" y1="52.0" x2="77.7" y2="52.0" stroke="#0000a0" stroke-width="1.7"/>
<line x1="56" y1="68.9" x2="77.7" y2="68.9" stroke="#ff0000" stroke-width="1.7" stroke-dasharray="5.2 3.15"/>
<line x1="56" y1="85.8" x2="77.7" y2="85.8" stroke="#0000ff" stroke-width="1.7" stroke-dasharray="3.3 3.65"/>
<rect x="42.8" y="5.6" width="355.95" height="248.60" stroke="#000" stroke-width="1.6"/>
</g>
<g opacity="0.999">
<text transform="translate(-0.06,11.40) scale(1.012,1)" font-size="13.0">5</text>
<circle cx="8.80" cy="8.20" r="0.75" fill="#1a1a1a"/>
<text transform="translate(10.75,11.40) scale(1.020,1)" font-size="13.0">10</text>
<line x1="25.20" y1="3.50" x2="30.90" y2="3.50" stroke="#1a1a1a" stroke-width="0.7"/>
<text transform="translate(31.74,6.40) scale(1.286,1)" font-size="9.2">3</text>
<text transform="translate(0.48,59.23) scale(0.875,1)" font-size="13.0">4</text>
<circle cx="8.80" cy="56.03" r="0.75" fill="#1a1a1a"/>
<text transform="translate(10.75,59.23) scale(1.020,1)" font-size="13.0">10</text>
<line x1="25.20" y1="51.33" x2="30.90" y2="51.33" stroke="#1a1a1a" stroke-width="0.7"/>
<text transform="translate(31.74,54.23) scale(1.286,1)" font-size="9.2">3</text>
<text transform="translate(0.10,107.06) scale(0.985,1)" font-size="13.0">3</text>
<circle cx="8.80" cy="103.86" r="0.75" fill="#1a1a1a"/>
<text transform="translate(10.75,107.06) scale(1.020,1)" font-size="13.0">10</text>
<line x1="25.20" y1="99.16" x2="30.90" y2="99.16" stroke="#1a1a1a" stroke-width="0.7"/>
<text transform="translate(31.74,102.06) scale(1.286,1)" font-size="9.2">3</text>
<text transform="translate(0.13,154.89) scale(1.014,1)" font-size="13.0">2</text>
<circle cx="8.80" cy="151.69" r="0.75" fill="#1a1a1a"/>
<text transform="translate(10.75,154.89) scale(1.020,1)" font-size="13.0">10</text>
<line x1="25.20" y1="146.99" x2="30.90" y2="146.99" stroke="#1a1a1a" stroke-width="0.7"/>
<text transform="translate(31.74,149.89) scale(1.286,1)" font-size="9.2">3</text>
<text transform="translate(5.13,202.92) scale(1.037,1)" font-size="13.0">10</text>
<line x1="19.80" y1="195.02" x2="25.60" y2="195.02" stroke="#1a1a1a" stroke-width="0.7"/>
<text transform="translate(25.99,197.92) scale(1.181,1)" font-size="9.2">3</text>
<text transform="translate(15.54,249.20) scale(1.143,1)" font-size="13.0">0</text>
<text transform="translate(29.03,270.30) scale(1.037,1)" font-size="13.0">10</text>
<line x1="43.80" y1="263.00" x2="49.50" y2="263.00" stroke="#1a1a1a" stroke-width="0.7"/>
<text transform="translate(49.99,265.90) scale(1.181,1)" font-size="9.2">3</text>
<text transform="translate(90.51,270.30) scale(0.987,1)" font-size="13.0">0.01</text>
<text transform="translate(152.58,270.30) scale(1.062,1)" font-size="13.0">0.1</text>
<text transform="translate(216.52,270.00) scale(1.133,1)" font-size="13.0">1</text>
<text transform="translate(273.12,270.30) scale(1.046,1)" font-size="13.0">10</text>
<text transform="translate(330.42,270.30) scale(1.046,1)" font-size="13.0">10</text>
<text transform="translate(344.20,265.90) scale(1.000,1)" font-size="9.2">2</text>
<text transform="translate(389.13,270.60) scale(1.037,1)" font-size="13.0">10</text>
<text transform="translate(402.98,266.30) scale(0.971,1)" font-size="9.2">3</text>
<text transform="translate(217.16,284.00) scale(0.930,1)" font-size="13.0" font-style="italic">A</text>
<text transform="translate(240.37,284.00) scale(1.127,1)" font-size="13.0" font-style="italic">B</text>
<text transform="translate(257.03,284.00) scale(1.076,1)" font-size="13.0" font-style="italic">C</text>
<text transform="translate(275.37,284.00) scale(1.068,1)" font-size="13.0" font-style="italic">D</text>
<text transform="translate(286.07,284.00) scale(1.103,1)" font-size="13.0" font-style="italic">E</text>
<text transform="translate(294.18,284.00) scale(1.044,1)" font-size="13.0" font-style="italic">F</text>
<text transform="translate(381.24,286.00) scale(1.172,1)" font-size="13" font-weight="bold">M</text>
<text transform="translate(395.06,287.60) scale(1.003,1)" font-size="9.6">1</text>
<text transform="translate(401.10,289.22) scale(1.525,1.435)" font-size="12.5" fill="#484848">/</text>
<text transform="translate(405.98,286.00) scale(1.326,1)" font-size="13" font-style="italic">T</text>
<text transform="translate(83.92,21.60) scale(1.211,1)" font-size="11.3" font-style="italic">n</text>
<text transform="translate(90.66,23.20) scale(1.004,1)" font-size="9.2" font-style="italic">b</text>
<text transform="translate(97.70,24.22) scale(1.468,1.435)" font-size="12.5" fill="#484848">/</text>
<text transform="translate(104.24,21.60) scale(1.173,1)" font-size="11.3" font-style="italic">s</text>
<text transform="translate(83.92,38.60) scale(1.211,1)" font-size="11.3" font-style="italic">n</text>
<text transform="translate(90.69,39.90) scale(1.253,1)" font-size="8.3" font-style="italic">ψ</text>
<text transform="translate(98.61,41.60) scale(1.204,1)" font-size="7.2" font-weight="bold">1</text>
<text transform="translate(105.20,41.22) scale(1.669,1.435)" font-size="12.5" fill="#484848">/</text>
<text transform="translate(111.74,38.60) scale(1.199,1)" font-size="11.3" font-style="italic">s</text>
<text transform="translate(83.92,55.60) scale(1.211,1)" font-size="11.3" font-style="italic">n</text>
<text transform="translate(91.80,57.90) scale(0.879,1)" font-size="9.2" font-style="italic">b</text>
<line x1="91.80" y1="50.90" x2="95.20" y2="50.90" stroke="#1a1a1a" stroke-width="0.6"/>
<text transform="translate(97.70,58.22) scale(1.468,1.435)" font-size="12.5" fill="#484848">/</text>
<text transform="translate(104.24,55.60) scale(1.173,1)" font-size="11.3" font-style="italic">s</text>
<text transform="translate(83.86,72.10) scale(1.370,1)" font-size="11.3" font-style="italic">η</text>
<text transform="translate(91.28,72.23) scale(1.147,1.076)" font-size="12.5">(</text>
<text transform="translate(96.45,71.90) scale(1.023,1)" font-size="12.4" font-style="italic">M</text>
<text transform="translate(107.64,73.80) scale(1.102,1)" font-size="9.0">1</text>
<text transform="translate(113.60,74.72) scale(1.640,1.435)" font-size="12.5" fill="#484848">/</text>
<text transform="translate(118.89,71.90) scale(1.376,1)" font-size="12.4" font-style="italic">T</text>
<text transform="translate(129.54,72.23) scale(1.147,1.076)" font-size="12.5">)</text>
<text transform="translate(134.90,74.72) scale(1.698,1.435)" font-size="12.5" fill="#484848">/</text>
<text transform="translate(141.77,72.10) scale(1.022,1)" font-size="11.3" font-style="italic">ϵ</text>
<text transform="translate(147.46,66.60) scale(1.349,1)" font-size="8.2" font-style="italic">vac</text>
<text transform="translate(147.21,73.80) scale(0.944,1)" font-size="8.4">1</text>
<text transform="translate(83.98,89.03) scale(1.147,1.076)" font-size="12.5">(</text>
<text transform="translate(88.86,88.90) scale(1.357,1)" font-size="11.3" font-style="italic">n</text>
<text transform="translate(96.70,90.50) scale(0.879,1)" font-size="9.2" font-style="italic">b</text>
<line x1="105.80" y1="85.90" x2="114.80" y2="85.90" stroke="#1a1a1a" stroke-width="0.7"/>
<line x1="110.30" y1="81.40" x2="110.30" y2="90.40" stroke="#1a1a1a" stroke-width="0.7"/>
<text transform="translate(117.86,88.70) scale(1.148,1)" font-size="13.0">2</text>
<text transform="translate(124.75,88.90) scale(1.398,1)" font-size="11.3" font-style="italic">n</text>
<text transform="translate(132.65,90.20) scale(1.128,1)" font-size="8.3" font-style="italic">ψ</text>
<text transform="translate(138.91,91.90) scale(1.204,1)" font-size="7.2" font-weight="bold">1</text>
<line x1="149.10" y1="85.90" x2="157.60" y2="85.90" stroke="#1a1a1a" stroke-width="0.7"/>
<line x1="153.35" y1="81.60" x2="153.35" y2="90.20" stroke="#1a1a1a" stroke-width="0.7"/>
<text transform="translate(161.04,88.90) scale(1.419,1)" font-size="11.3" font-style="italic">n</text>
<text transform="translate(169.80,91.30) scale(0.879,1)" font-size="9.2" font-style="italic">b</text>
<line x1="169.70" y1="84.40" x2="172.80" y2="84.40" stroke="#1a1a1a" stroke-width="0.6"/>
<text transform="translate(174.13,89.03) scale(1.178,1.076)" font-size="12.5">)</text>
<text transform="translate(179.80,91.52) scale(1.669,1.435)" font-size="12.5" fill="#484848">/</text>
<text transform="translate(186.53,88.90) scale(1.275,1)" font-size="11.3" font-style="italic">s</text>
</g>
</svg>
</body></html>
